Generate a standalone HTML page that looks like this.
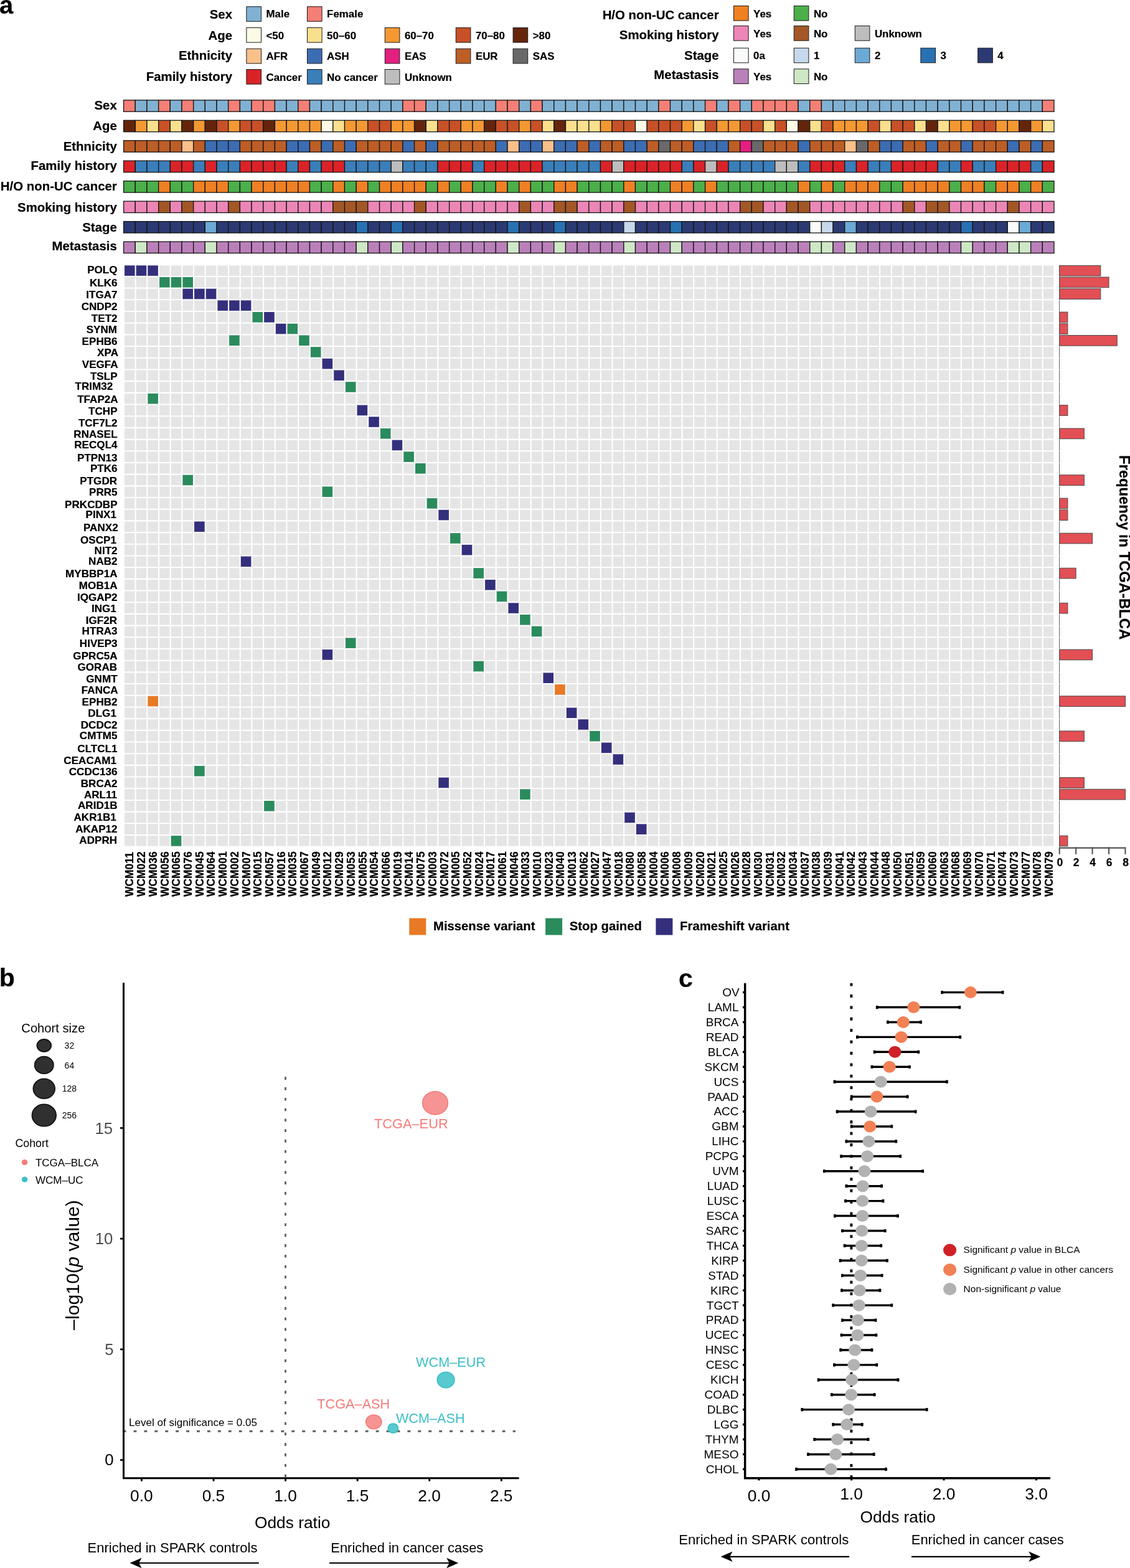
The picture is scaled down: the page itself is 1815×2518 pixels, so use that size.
<!DOCTYPE html>
<html lang="en"><head><meta charset="utf-8"><title>Figure</title>
<style>
html,body{margin:0;padding:0;background:#fff;}
body{width:1815px;height:2518px;overflow:hidden;}
svg{display:block;font-family:"Liberation Sans",Arial,Helvetica,sans-serif;}
.b{stroke:#000;stroke-width:0.2px;paint-order:stroke;}
</style></head><body>
<svg width="1815" height="2518" viewBox="0 0 1815 2518">
<rect width="1815" height="2518" fill="#fff"/>
<text x="-1.00" y="22.00" font-size="40" text-anchor="start" font-weight="bold" fill="#000" class="b">a</text>
<text x="373.00" y="29.80" font-size="20.4" text-anchor="end" font-weight="bold" fill="#000" class="b">Sex</text>
<rect x="395.90" y="10.70" width="23.60" height="23.60" fill="#80B1D3" stroke="#1a1a1a" stroke-width="1.0"/>
<text x="427.50" y="28.00" font-size="16.9" text-anchor="start" font-weight="bold" fill="#000" class="b">Male</text>
<rect x="493.50" y="10.70" width="23.60" height="23.60" fill="#F47F76" stroke="#1a1a1a" stroke-width="1.0"/>
<text x="525.10" y="28.00" font-size="16.9" text-anchor="start" font-weight="bold" fill="#000" class="b">Female</text>
<text x="373.00" y="63.60" font-size="20.4" text-anchor="end" font-weight="bold" fill="#000" class="b">Age</text>
<rect x="395.90" y="44.50" width="23.60" height="23.60" fill="#FDFBE6" stroke="#1a1a1a" stroke-width="1.0"/>
<text x="427.50" y="62.50" font-size="16.9" text-anchor="start" font-weight="bold" fill="#000" class="b">&lt;50</text>
<rect x="493.50" y="44.50" width="23.60" height="23.60" fill="#FAE08D" stroke="#1a1a1a" stroke-width="1.0"/>
<text x="525.10" y="62.50" font-size="16.9" text-anchor="start" font-weight="bold" fill="#000" class="b">50–60</text>
<rect x="618.30" y="44.50" width="23.60" height="23.60" fill="#F49832" stroke="#1a1a1a" stroke-width="1.0"/>
<text x="649.90" y="62.50" font-size="16.9" text-anchor="start" font-weight="bold" fill="#000" class="b">60–70</text>
<rect x="732.30" y="44.50" width="23.60" height="23.60" fill="#C85127" stroke="#1a1a1a" stroke-width="1.0"/>
<text x="763.90" y="62.50" font-size="16.9" text-anchor="start" font-weight="bold" fill="#000" class="b">70–80</text>
<rect x="824.10" y="44.50" width="23.60" height="23.60" fill="#65250B" stroke="#1a1a1a" stroke-width="1.0"/>
<text x="855.70" y="62.50" font-size="16.9" text-anchor="start" font-weight="bold" fill="#000" class="b">&gt;80</text>
<text x="373.00" y="96.00" font-size="20.4" text-anchor="end" font-weight="bold" fill="#000" class="b">Ethnicity</text>
<rect x="395.90" y="78.30" width="23.60" height="23.60" fill="#FAC08A" stroke="#1a1a1a" stroke-width="1.0"/>
<text x="427.50" y="96.30" font-size="16.9" text-anchor="start" font-weight="bold" fill="#000" class="b">AFR</text>
<rect x="493.50" y="78.30" width="23.60" height="23.60" fill="#3C6DB2" stroke="#1a1a1a" stroke-width="1.0"/>
<text x="525.10" y="96.30" font-size="16.9" text-anchor="start" font-weight="bold" fill="#000" class="b">ASH</text>
<rect x="618.30" y="78.30" width="23.60" height="23.60" fill="#E31F80" stroke="#1a1a1a" stroke-width="1.0"/>
<text x="649.90" y="96.30" font-size="16.9" text-anchor="start" font-weight="bold" fill="#000" class="b">EAS</text>
<rect x="732.30" y="78.30" width="23.60" height="23.60" fill="#BD5E26" stroke="#1a1a1a" stroke-width="1.0"/>
<text x="763.90" y="96.30" font-size="16.9" text-anchor="start" font-weight="bold" fill="#000" class="b">EUR</text>
<rect x="824.10" y="78.30" width="23.60" height="23.60" fill="#696969" stroke="#1a1a1a" stroke-width="1.0"/>
<text x="855.70" y="96.30" font-size="16.9" text-anchor="start" font-weight="bold" fill="#000" class="b">SAS</text>
<text x="373.00" y="129.60" font-size="20.4" text-anchor="end" font-weight="bold" fill="#000" class="b">Family history</text>
<rect x="395.90" y="111.50" width="23.60" height="23.60" fill="#DA2328" stroke="#1a1a1a" stroke-width="1.0"/>
<text x="427.50" y="129.80" font-size="16.9" text-anchor="start" font-weight="bold" fill="#000" class="b">Cancer</text>
<rect x="493.50" y="111.50" width="23.60" height="23.60" fill="#3A7EBA" stroke="#1a1a1a" stroke-width="1.0"/>
<text x="525.10" y="129.80" font-size="16.9" text-anchor="start" font-weight="bold" fill="#000" class="b">No cancer</text>
<rect x="618.30" y="111.50" width="23.60" height="23.60" fill="#BDBDBD" stroke="#1a1a1a" stroke-width="1.0"/>
<text x="649.90" y="129.80" font-size="16.9" text-anchor="start" font-weight="bold" fill="#000" class="b">Unknown</text>
<text x="1154.60" y="31.40" font-size="20.4" text-anchor="end" font-weight="bold" fill="#000" class="b">H/O non-UC cancer</text>
<rect x="1178.50" y="9.50" width="23.60" height="23.60" fill="#F08024" stroke="#1a1a1a" stroke-width="1.0"/>
<text x="1210.10" y="27.60" font-size="16.9" text-anchor="start" font-weight="bold" fill="#000" class="b">Yes</text>
<rect x="1275.30" y="9.50" width="23.60" height="23.60" fill="#4BAF4A" stroke="#1a1a1a" stroke-width="1.0"/>
<text x="1306.90" y="27.60" font-size="16.9" text-anchor="start" font-weight="bold" fill="#000" class="b">No</text>
<text x="1154.60" y="62.50" font-size="20.4" text-anchor="end" font-weight="bold" fill="#000" class="b">Smoking history</text>
<rect x="1178.50" y="41.60" width="23.60" height="23.60" fill="#EC86B6" stroke="#1a1a1a" stroke-width="1.0"/>
<text x="1210.10" y="59.60" font-size="16.9" text-anchor="start" font-weight="bold" fill="#000" class="b">Yes</text>
<rect x="1275.30" y="41.60" width="23.60" height="23.60" fill="#A45726" stroke="#1a1a1a" stroke-width="1.0"/>
<text x="1306.90" y="59.60" font-size="16.9" text-anchor="start" font-weight="bold" fill="#000" class="b">No</text>
<rect x="1373.30" y="41.60" width="23.60" height="23.60" fill="#BDBDBD" stroke="#1a1a1a" stroke-width="1.0"/>
<text x="1404.90" y="59.60" font-size="16.9" text-anchor="start" font-weight="bold" fill="#000" class="b">Unknown</text>
<text x="1154.60" y="95.90" font-size="20.4" text-anchor="end" font-weight="bold" fill="#000" class="b">Stage</text>
<rect x="1178.50" y="77.20" width="23.60" height="23.60" fill="#F9FBFA" stroke="#1a1a1a" stroke-width="1.0"/>
<text x="1210.10" y="95.40" font-size="16.9" text-anchor="start" font-weight="bold" fill="#000" class="b">0a</text>
<rect x="1275.30" y="77.20" width="23.60" height="23.60" fill="#C6D9EC" stroke="#1a1a1a" stroke-width="1.0"/>
<text x="1306.90" y="95.40" font-size="16.9" text-anchor="start" font-weight="bold" fill="#000" class="b">1</text>
<rect x="1373.30" y="77.20" width="23.60" height="23.60" fill="#6BAAD7" stroke="#1a1a1a" stroke-width="1.0"/>
<text x="1404.90" y="95.40" font-size="16.9" text-anchor="start" font-weight="bold" fill="#000" class="b">2</text>
<rect x="1478.90" y="77.20" width="23.60" height="23.60" fill="#2871B3" stroke="#1a1a1a" stroke-width="1.0"/>
<text x="1510.50" y="95.40" font-size="16.9" text-anchor="start" font-weight="bold" fill="#000" class="b">3</text>
<rect x="1570.70" y="77.20" width="23.60" height="23.60" fill="#2B3A73" stroke="#1a1a1a" stroke-width="1.0"/>
<text x="1602.30" y="95.40" font-size="16.9" text-anchor="start" font-weight="bold" fill="#000" class="b">4</text>
<text x="1154.60" y="127.30" font-size="20.4" text-anchor="end" font-weight="bold" fill="#000" class="b">Metastasis</text>
<rect x="1178.50" y="110.80" width="23.60" height="23.60" fill="#BA80BA" stroke="#1a1a1a" stroke-width="1.0"/>
<text x="1210.10" y="128.80" font-size="16.9" text-anchor="start" font-weight="bold" fill="#000" class="b">Yes</text>
<rect x="1275.30" y="110.80" width="23.60" height="23.60" fill="#CEE8C6" stroke="#1a1a1a" stroke-width="1.0"/>
<text x="1306.90" y="128.80" font-size="16.9" text-anchor="start" font-weight="bold" fill="#000" class="b">No</text>
<text x="187.80" y="176.40" font-size="20.4" text-anchor="end" font-weight="bold" fill="#000" class="b">Sex</text>
<g stroke="#141414" stroke-width="1.3">
<rect x="198.60" y="160.80" width="18.68" height="18.40" fill="#F47F76"/>
<rect x="217.28" y="160.80" width="18.68" height="18.40" fill="#80B1D3"/>
<rect x="235.96" y="160.80" width="18.68" height="18.40" fill="#80B1D3"/>
<rect x="254.64" y="160.80" width="18.68" height="18.40" fill="#F47F76"/>
<rect x="273.32" y="160.80" width="18.68" height="18.40" fill="#80B1D3"/>
<rect x="292.00" y="160.80" width="18.68" height="18.40" fill="#F47F76"/>
<rect x="310.68" y="160.80" width="18.68" height="18.40" fill="#80B1D3"/>
<rect x="329.36" y="160.80" width="18.68" height="18.40" fill="#80B1D3"/>
<rect x="348.04" y="160.80" width="18.68" height="18.40" fill="#80B1D3"/>
<rect x="366.72" y="160.80" width="18.68" height="18.40" fill="#F47F76"/>
<rect x="385.40" y="160.80" width="18.68" height="18.40" fill="#80B1D3"/>
<rect x="404.08" y="160.80" width="18.68" height="18.40" fill="#F47F76"/>
<rect x="422.76" y="160.80" width="18.68" height="18.40" fill="#F47F76"/>
<rect x="441.44" y="160.80" width="18.68" height="18.40" fill="#80B1D3"/>
<rect x="460.12" y="160.80" width="18.68" height="18.40" fill="#80B1D3"/>
<rect x="478.80" y="160.80" width="18.68" height="18.40" fill="#F47F76"/>
<rect x="497.48" y="160.80" width="18.68" height="18.40" fill="#80B1D3"/>
<rect x="516.16" y="160.80" width="18.68" height="18.40" fill="#80B1D3"/>
<rect x="534.84" y="160.80" width="18.68" height="18.40" fill="#80B1D3"/>
<rect x="553.52" y="160.80" width="18.68" height="18.40" fill="#80B1D3"/>
<rect x="572.20" y="160.80" width="18.68" height="18.40" fill="#80B1D3"/>
<rect x="590.88" y="160.80" width="18.68" height="18.40" fill="#80B1D3"/>
<rect x="609.56" y="160.80" width="18.68" height="18.40" fill="#80B1D3"/>
<rect x="628.24" y="160.80" width="18.68" height="18.40" fill="#80B1D3"/>
<rect x="646.92" y="160.80" width="18.68" height="18.40" fill="#F47F76"/>
<rect x="665.60" y="160.80" width="18.68" height="18.40" fill="#F47F76"/>
<rect x="684.28" y="160.80" width="18.68" height="18.40" fill="#80B1D3"/>
<rect x="702.96" y="160.80" width="18.68" height="18.40" fill="#80B1D3"/>
<rect x="721.64" y="160.80" width="18.68" height="18.40" fill="#80B1D3"/>
<rect x="740.32" y="160.80" width="18.68" height="18.40" fill="#80B1D3"/>
<rect x="759.00" y="160.80" width="18.68" height="18.40" fill="#80B1D3"/>
<rect x="777.68" y="160.80" width="18.68" height="18.40" fill="#80B1D3"/>
<rect x="796.36" y="160.80" width="18.68" height="18.40" fill="#F47F76"/>
<rect x="815.04" y="160.80" width="18.68" height="18.40" fill="#F47F76"/>
<rect x="833.72" y="160.80" width="18.68" height="18.40" fill="#80B1D3"/>
<rect x="852.40" y="160.80" width="18.68" height="18.40" fill="#F47F76"/>
<rect x="871.08" y="160.80" width="18.68" height="18.40" fill="#80B1D3"/>
<rect x="889.76" y="160.80" width="18.68" height="18.40" fill="#80B1D3"/>
<rect x="908.44" y="160.80" width="18.68" height="18.40" fill="#80B1D3"/>
<rect x="927.12" y="160.80" width="18.68" height="18.40" fill="#80B1D3"/>
<rect x="945.80" y="160.80" width="18.68" height="18.40" fill="#80B1D3"/>
<rect x="964.48" y="160.80" width="18.68" height="18.40" fill="#80B1D3"/>
<rect x="983.16" y="160.80" width="18.68" height="18.40" fill="#80B1D3"/>
<rect x="1001.84" y="160.80" width="18.68" height="18.40" fill="#80B1D3"/>
<rect x="1020.52" y="160.80" width="18.68" height="18.40" fill="#80B1D3"/>
<rect x="1039.20" y="160.80" width="18.68" height="18.40" fill="#80B1D3"/>
<rect x="1057.88" y="160.80" width="18.68" height="18.40" fill="#F47F76"/>
<rect x="1076.56" y="160.80" width="18.68" height="18.40" fill="#80B1D3"/>
<rect x="1095.24" y="160.80" width="18.68" height="18.40" fill="#80B1D3"/>
<rect x="1113.92" y="160.80" width="18.68" height="18.40" fill="#80B1D3"/>
<rect x="1132.60" y="160.80" width="18.68" height="18.40" fill="#F47F76"/>
<rect x="1151.28" y="160.80" width="18.68" height="18.40" fill="#80B1D3"/>
<rect x="1169.96" y="160.80" width="18.68" height="18.40" fill="#F47F76"/>
<rect x="1188.64" y="160.80" width="18.68" height="18.40" fill="#80B1D3"/>
<rect x="1207.32" y="160.80" width="18.68" height="18.40" fill="#F47F76"/>
<rect x="1226.00" y="160.80" width="18.68" height="18.40" fill="#F47F76"/>
<rect x="1244.68" y="160.80" width="18.68" height="18.40" fill="#F47F76"/>
<rect x="1263.36" y="160.80" width="18.68" height="18.40" fill="#F47F76"/>
<rect x="1282.04" y="160.80" width="18.68" height="18.40" fill="#80B1D3"/>
<rect x="1300.72" y="160.80" width="18.68" height="18.40" fill="#F47F76"/>
<rect x="1319.40" y="160.80" width="18.68" height="18.40" fill="#80B1D3"/>
<rect x="1338.08" y="160.80" width="18.68" height="18.40" fill="#80B1D3"/>
<rect x="1356.76" y="160.80" width="18.68" height="18.40" fill="#80B1D3"/>
<rect x="1375.44" y="160.80" width="18.68" height="18.40" fill="#80B1D3"/>
<rect x="1394.12" y="160.80" width="18.68" height="18.40" fill="#80B1D3"/>
<rect x="1412.80" y="160.80" width="18.68" height="18.40" fill="#80B1D3"/>
<rect x="1431.48" y="160.80" width="18.68" height="18.40" fill="#80B1D3"/>
<rect x="1450.16" y="160.80" width="18.68" height="18.40" fill="#80B1D3"/>
<rect x="1468.84" y="160.80" width="18.68" height="18.40" fill="#80B1D3"/>
<rect x="1487.52" y="160.80" width="18.68" height="18.40" fill="#80B1D3"/>
<rect x="1506.20" y="160.80" width="18.68" height="18.40" fill="#80B1D3"/>
<rect x="1524.88" y="160.80" width="18.68" height="18.40" fill="#80B1D3"/>
<rect x="1543.56" y="160.80" width="18.68" height="18.40" fill="#80B1D3"/>
<rect x="1562.24" y="160.80" width="18.68" height="18.40" fill="#80B1D3"/>
<rect x="1580.92" y="160.80" width="18.68" height="18.40" fill="#80B1D3"/>
<rect x="1599.60" y="160.80" width="18.68" height="18.40" fill="#80B1D3"/>
<rect x="1618.28" y="160.80" width="18.68" height="18.40" fill="#80B1D3"/>
<rect x="1636.96" y="160.80" width="18.68" height="18.40" fill="#80B1D3"/>
<rect x="1655.64" y="160.80" width="18.68" height="18.40" fill="#80B1D3"/>
<rect x="1674.32" y="160.80" width="18.68" height="18.40" fill="#F47F76"/>
</g>
<text x="187.80" y="208.90" font-size="20.4" text-anchor="end" font-weight="bold" fill="#000" class="b">Age</text>
<g stroke="#141414" stroke-width="1.3">
<rect x="198.60" y="193.27" width="18.68" height="18.40" fill="#65250B"/>
<rect x="217.28" y="193.27" width="18.68" height="18.40" fill="#F49832"/>
<rect x="235.96" y="193.27" width="18.68" height="18.40" fill="#FAE08D"/>
<rect x="254.64" y="193.27" width="18.68" height="18.40" fill="#C85127"/>
<rect x="273.32" y="193.27" width="18.68" height="18.40" fill="#FAE08D"/>
<rect x="292.00" y="193.27" width="18.68" height="18.40" fill="#65250B"/>
<rect x="310.68" y="193.27" width="18.68" height="18.40" fill="#F49832"/>
<rect x="329.36" y="193.27" width="18.68" height="18.40" fill="#65250B"/>
<rect x="348.04" y="193.27" width="18.68" height="18.40" fill="#C85127"/>
<rect x="366.72" y="193.27" width="18.68" height="18.40" fill="#F49832"/>
<rect x="385.40" y="193.27" width="18.68" height="18.40" fill="#C85127"/>
<rect x="404.08" y="193.27" width="18.68" height="18.40" fill="#C85127"/>
<rect x="422.76" y="193.27" width="18.68" height="18.40" fill="#65250B"/>
<rect x="441.44" y="193.27" width="18.68" height="18.40" fill="#F49832"/>
<rect x="460.12" y="193.27" width="18.68" height="18.40" fill="#F49832"/>
<rect x="478.80" y="193.27" width="18.68" height="18.40" fill="#F49832"/>
<rect x="497.48" y="193.27" width="18.68" height="18.40" fill="#F49832"/>
<rect x="516.16" y="193.27" width="18.68" height="18.40" fill="#FDFBE6"/>
<rect x="534.84" y="193.27" width="18.68" height="18.40" fill="#FAE08D"/>
<rect x="553.52" y="193.27" width="18.68" height="18.40" fill="#F49832"/>
<rect x="572.20" y="193.27" width="18.68" height="18.40" fill="#F49832"/>
<rect x="590.88" y="193.27" width="18.68" height="18.40" fill="#C85127"/>
<rect x="609.56" y="193.27" width="18.68" height="18.40" fill="#C85127"/>
<rect x="628.24" y="193.27" width="18.68" height="18.40" fill="#F49832"/>
<rect x="646.92" y="193.27" width="18.68" height="18.40" fill="#F49832"/>
<rect x="665.60" y="193.27" width="18.68" height="18.40" fill="#65250B"/>
<rect x="684.28" y="193.27" width="18.68" height="18.40" fill="#FAE08D"/>
<rect x="702.96" y="193.27" width="18.68" height="18.40" fill="#C85127"/>
<rect x="721.64" y="193.27" width="18.68" height="18.40" fill="#C85127"/>
<rect x="740.32" y="193.27" width="18.68" height="18.40" fill="#F49832"/>
<rect x="759.00" y="193.27" width="18.68" height="18.40" fill="#F49832"/>
<rect x="777.68" y="193.27" width="18.68" height="18.40" fill="#65250B"/>
<rect x="796.36" y="193.27" width="18.68" height="18.40" fill="#C85127"/>
<rect x="815.04" y="193.27" width="18.68" height="18.40" fill="#C85127"/>
<rect x="833.72" y="193.27" width="18.68" height="18.40" fill="#F49832"/>
<rect x="852.40" y="193.27" width="18.68" height="18.40" fill="#C85127"/>
<rect x="871.08" y="193.27" width="18.68" height="18.40" fill="#FAE08D"/>
<rect x="889.76" y="193.27" width="18.68" height="18.40" fill="#65250B"/>
<rect x="908.44" y="193.27" width="18.68" height="18.40" fill="#FAE08D"/>
<rect x="927.12" y="193.27" width="18.68" height="18.40" fill="#FAE08D"/>
<rect x="945.80" y="193.27" width="18.68" height="18.40" fill="#FAE08D"/>
<rect x="964.48" y="193.27" width="18.68" height="18.40" fill="#F49832"/>
<rect x="983.16" y="193.27" width="18.68" height="18.40" fill="#C85127"/>
<rect x="1001.84" y="193.27" width="18.68" height="18.40" fill="#C85127"/>
<rect x="1020.52" y="193.27" width="18.68" height="18.40" fill="#FDFBE6"/>
<rect x="1039.20" y="193.27" width="18.68" height="18.40" fill="#C85127"/>
<rect x="1057.88" y="193.27" width="18.68" height="18.40" fill="#C85127"/>
<rect x="1076.56" y="193.27" width="18.68" height="18.40" fill="#C85127"/>
<rect x="1095.24" y="193.27" width="18.68" height="18.40" fill="#F49832"/>
<rect x="1113.92" y="193.27" width="18.68" height="18.40" fill="#FAE08D"/>
<rect x="1132.60" y="193.27" width="18.68" height="18.40" fill="#C85127"/>
<rect x="1151.28" y="193.27" width="18.68" height="18.40" fill="#F49832"/>
<rect x="1169.96" y="193.27" width="18.68" height="18.40" fill="#F49832"/>
<rect x="1188.64" y="193.27" width="18.68" height="18.40" fill="#C85127"/>
<rect x="1207.32" y="193.27" width="18.68" height="18.40" fill="#C85127"/>
<rect x="1226.00" y="193.27" width="18.68" height="18.40" fill="#FAE08D"/>
<rect x="1244.68" y="193.27" width="18.68" height="18.40" fill="#C85127"/>
<rect x="1263.36" y="193.27" width="18.68" height="18.40" fill="#FDFBE6"/>
<rect x="1282.04" y="193.27" width="18.68" height="18.40" fill="#65250B"/>
<rect x="1300.72" y="193.27" width="18.68" height="18.40" fill="#FAE08D"/>
<rect x="1319.40" y="193.27" width="18.68" height="18.40" fill="#C85127"/>
<rect x="1338.08" y="193.27" width="18.68" height="18.40" fill="#F49832"/>
<rect x="1356.76" y="193.27" width="18.68" height="18.40" fill="#F49832"/>
<rect x="1375.44" y="193.27" width="18.68" height="18.40" fill="#F49832"/>
<rect x="1394.12" y="193.27" width="18.68" height="18.40" fill="#C85127"/>
<rect x="1412.80" y="193.27" width="18.68" height="18.40" fill="#FAE08D"/>
<rect x="1431.48" y="193.27" width="18.68" height="18.40" fill="#C85127"/>
<rect x="1450.16" y="193.27" width="18.68" height="18.40" fill="#C85127"/>
<rect x="1468.84" y="193.27" width="18.68" height="18.40" fill="#FAE08D"/>
<rect x="1487.52" y="193.27" width="18.68" height="18.40" fill="#65250B"/>
<rect x="1506.20" y="193.27" width="18.68" height="18.40" fill="#FAE08D"/>
<rect x="1524.88" y="193.27" width="18.68" height="18.40" fill="#F49832"/>
<rect x="1543.56" y="193.27" width="18.68" height="18.40" fill="#F49832"/>
<rect x="1562.24" y="193.27" width="18.68" height="18.40" fill="#C85127"/>
<rect x="1580.92" y="193.27" width="18.68" height="18.40" fill="#C85127"/>
<rect x="1599.60" y="193.27" width="18.68" height="18.40" fill="#F49832"/>
<rect x="1618.28" y="193.27" width="18.68" height="18.40" fill="#F49832"/>
<rect x="1636.96" y="193.27" width="18.68" height="18.40" fill="#65250B"/>
<rect x="1655.64" y="193.27" width="18.68" height="18.40" fill="#F49832"/>
<rect x="1674.32" y="193.27" width="18.68" height="18.40" fill="#FAE08D"/>
</g>
<text x="187.80" y="241.70" font-size="20.4" text-anchor="end" font-weight="bold" fill="#000" class="b">Ethnicity</text>
<g stroke="#141414" stroke-width="1.3">
<rect x="198.60" y="225.74" width="18.68" height="18.40" fill="#BD5E26"/>
<rect x="217.28" y="225.74" width="18.68" height="18.40" fill="#BD5E26"/>
<rect x="235.96" y="225.74" width="18.68" height="18.40" fill="#BD5E26"/>
<rect x="254.64" y="225.74" width="18.68" height="18.40" fill="#BD5E26"/>
<rect x="273.32" y="225.74" width="18.68" height="18.40" fill="#BD5E26"/>
<rect x="292.00" y="225.74" width="18.68" height="18.40" fill="#FAC08A"/>
<rect x="310.68" y="225.74" width="18.68" height="18.40" fill="#BD5E26"/>
<rect x="329.36" y="225.74" width="18.68" height="18.40" fill="#3C6DB2"/>
<rect x="348.04" y="225.74" width="18.68" height="18.40" fill="#3C6DB2"/>
<rect x="366.72" y="225.74" width="18.68" height="18.40" fill="#3C6DB2"/>
<rect x="385.40" y="225.74" width="18.68" height="18.40" fill="#BD5E26"/>
<rect x="404.08" y="225.74" width="18.68" height="18.40" fill="#BD5E26"/>
<rect x="422.76" y="225.74" width="18.68" height="18.40" fill="#BD5E26"/>
<rect x="441.44" y="225.74" width="18.68" height="18.40" fill="#BD5E26"/>
<rect x="460.12" y="225.74" width="18.68" height="18.40" fill="#3C6DB2"/>
<rect x="478.80" y="225.74" width="18.68" height="18.40" fill="#3C6DB2"/>
<rect x="497.48" y="225.74" width="18.68" height="18.40" fill="#BD5E26"/>
<rect x="516.16" y="225.74" width="18.68" height="18.40" fill="#3C6DB2"/>
<rect x="534.84" y="225.74" width="18.68" height="18.40" fill="#BD5E26"/>
<rect x="553.52" y="225.74" width="18.68" height="18.40" fill="#3C6DB2"/>
<rect x="572.20" y="225.74" width="18.68" height="18.40" fill="#BD5E26"/>
<rect x="590.88" y="225.74" width="18.68" height="18.40" fill="#BD5E26"/>
<rect x="609.56" y="225.74" width="18.68" height="18.40" fill="#BD5E26"/>
<rect x="628.24" y="225.74" width="18.68" height="18.40" fill="#BD5E26"/>
<rect x="646.92" y="225.74" width="18.68" height="18.40" fill="#3C6DB2"/>
<rect x="665.60" y="225.74" width="18.68" height="18.40" fill="#BD5E26"/>
<rect x="684.28" y="225.74" width="18.68" height="18.40" fill="#3C6DB2"/>
<rect x="702.96" y="225.74" width="18.68" height="18.40" fill="#BD5E26"/>
<rect x="721.64" y="225.74" width="18.68" height="18.40" fill="#BD5E26"/>
<rect x="740.32" y="225.74" width="18.68" height="18.40" fill="#BD5E26"/>
<rect x="759.00" y="225.74" width="18.68" height="18.40" fill="#BD5E26"/>
<rect x="777.68" y="225.74" width="18.68" height="18.40" fill="#BD5E26"/>
<rect x="796.36" y="225.74" width="18.68" height="18.40" fill="#3C6DB2"/>
<rect x="815.04" y="225.74" width="18.68" height="18.40" fill="#FAC08A"/>
<rect x="833.72" y="225.74" width="18.68" height="18.40" fill="#3C6DB2"/>
<rect x="852.40" y="225.74" width="18.68" height="18.40" fill="#3C6DB2"/>
<rect x="871.08" y="225.74" width="18.68" height="18.40" fill="#FAC08A"/>
<rect x="889.76" y="225.74" width="18.68" height="18.40" fill="#3C6DB2"/>
<rect x="908.44" y="225.74" width="18.68" height="18.40" fill="#3C6DB2"/>
<rect x="927.12" y="225.74" width="18.68" height="18.40" fill="#BD5E26"/>
<rect x="945.80" y="225.74" width="18.68" height="18.40" fill="#3C6DB2"/>
<rect x="964.48" y="225.74" width="18.68" height="18.40" fill="#BD5E26"/>
<rect x="983.16" y="225.74" width="18.68" height="18.40" fill="#BD5E26"/>
<rect x="1001.84" y="225.74" width="18.68" height="18.40" fill="#3C6DB2"/>
<rect x="1020.52" y="225.74" width="18.68" height="18.40" fill="#3C6DB2"/>
<rect x="1039.20" y="225.74" width="18.68" height="18.40" fill="#BD5E26"/>
<rect x="1057.88" y="225.74" width="18.68" height="18.40" fill="#696969"/>
<rect x="1076.56" y="225.74" width="18.68" height="18.40" fill="#BD5E26"/>
<rect x="1095.24" y="225.74" width="18.68" height="18.40" fill="#BD5E26"/>
<rect x="1113.92" y="225.74" width="18.68" height="18.40" fill="#3C6DB2"/>
<rect x="1132.60" y="225.74" width="18.68" height="18.40" fill="#3C6DB2"/>
<rect x="1151.28" y="225.74" width="18.68" height="18.40" fill="#3C6DB2"/>
<rect x="1169.96" y="225.74" width="18.68" height="18.40" fill="#BD5E26"/>
<rect x="1188.64" y="225.74" width="18.68" height="18.40" fill="#E31F80"/>
<rect x="1207.32" y="225.74" width="18.68" height="18.40" fill="#696969"/>
<rect x="1226.00" y="225.74" width="18.68" height="18.40" fill="#BD5E26"/>
<rect x="1244.68" y="225.74" width="18.68" height="18.40" fill="#BD5E26"/>
<rect x="1263.36" y="225.74" width="18.68" height="18.40" fill="#BD5E26"/>
<rect x="1282.04" y="225.74" width="18.68" height="18.40" fill="#3C6DB2"/>
<rect x="1300.72" y="225.74" width="18.68" height="18.40" fill="#BD5E26"/>
<rect x="1319.40" y="225.74" width="18.68" height="18.40" fill="#BD5E26"/>
<rect x="1338.08" y="225.74" width="18.68" height="18.40" fill="#BD5E26"/>
<rect x="1356.76" y="225.74" width="18.68" height="18.40" fill="#FAC08A"/>
<rect x="1375.44" y="225.74" width="18.68" height="18.40" fill="#696969"/>
<rect x="1394.12" y="225.74" width="18.68" height="18.40" fill="#BD5E26"/>
<rect x="1412.80" y="225.74" width="18.68" height="18.40" fill="#3C6DB2"/>
<rect x="1431.48" y="225.74" width="18.68" height="18.40" fill="#3C6DB2"/>
<rect x="1450.16" y="225.74" width="18.68" height="18.40" fill="#BD5E26"/>
<rect x="1468.84" y="225.74" width="18.68" height="18.40" fill="#BD5E26"/>
<rect x="1487.52" y="225.74" width="18.68" height="18.40" fill="#3C6DB2"/>
<rect x="1506.20" y="225.74" width="18.68" height="18.40" fill="#BD5E26"/>
<rect x="1524.88" y="225.74" width="18.68" height="18.40" fill="#BD5E26"/>
<rect x="1543.56" y="225.74" width="18.68" height="18.40" fill="#3C6DB2"/>
<rect x="1562.24" y="225.74" width="18.68" height="18.40" fill="#BD5E26"/>
<rect x="1580.92" y="225.74" width="18.68" height="18.40" fill="#BD5E26"/>
<rect x="1599.60" y="225.74" width="18.68" height="18.40" fill="#BD5E26"/>
<rect x="1618.28" y="225.74" width="18.68" height="18.40" fill="#3C6DB2"/>
<rect x="1636.96" y="225.74" width="18.68" height="18.40" fill="#BD5E26"/>
<rect x="1655.64" y="225.74" width="18.68" height="18.40" fill="#3C6DB2"/>
<rect x="1674.32" y="225.74" width="18.68" height="18.40" fill="#BD5E26"/>
</g>
<text x="187.80" y="273.00" font-size="20.4" text-anchor="end" font-weight="bold" fill="#000" class="b">Family history</text>
<g stroke="#141414" stroke-width="1.3">
<rect x="198.60" y="258.21" width="18.68" height="18.40" fill="#DA2328"/>
<rect x="217.28" y="258.21" width="18.68" height="18.40" fill="#3A7EBA"/>
<rect x="235.96" y="258.21" width="18.68" height="18.40" fill="#3A7EBA"/>
<rect x="254.64" y="258.21" width="18.68" height="18.40" fill="#3A7EBA"/>
<rect x="273.32" y="258.21" width="18.68" height="18.40" fill="#DA2328"/>
<rect x="292.00" y="258.21" width="18.68" height="18.40" fill="#DA2328"/>
<rect x="310.68" y="258.21" width="18.68" height="18.40" fill="#3A7EBA"/>
<rect x="329.36" y="258.21" width="18.68" height="18.40" fill="#DA2328"/>
<rect x="348.04" y="258.21" width="18.68" height="18.40" fill="#3A7EBA"/>
<rect x="366.72" y="258.21" width="18.68" height="18.40" fill="#3A7EBA"/>
<rect x="385.40" y="258.21" width="18.68" height="18.40" fill="#DA2328"/>
<rect x="404.08" y="258.21" width="18.68" height="18.40" fill="#DA2328"/>
<rect x="422.76" y="258.21" width="18.68" height="18.40" fill="#DA2328"/>
<rect x="441.44" y="258.21" width="18.68" height="18.40" fill="#DA2328"/>
<rect x="460.12" y="258.21" width="18.68" height="18.40" fill="#3A7EBA"/>
<rect x="478.80" y="258.21" width="18.68" height="18.40" fill="#DA2328"/>
<rect x="497.48" y="258.21" width="18.68" height="18.40" fill="#3A7EBA"/>
<rect x="516.16" y="258.21" width="18.68" height="18.40" fill="#DA2328"/>
<rect x="534.84" y="258.21" width="18.68" height="18.40" fill="#DA2328"/>
<rect x="553.52" y="258.21" width="18.68" height="18.40" fill="#3A7EBA"/>
<rect x="572.20" y="258.21" width="18.68" height="18.40" fill="#3A7EBA"/>
<rect x="590.88" y="258.21" width="18.68" height="18.40" fill="#3A7EBA"/>
<rect x="609.56" y="258.21" width="18.68" height="18.40" fill="#3A7EBA"/>
<rect x="628.24" y="258.21" width="18.68" height="18.40" fill="#BDBDBD"/>
<rect x="646.92" y="258.21" width="18.68" height="18.40" fill="#3A7EBA"/>
<rect x="665.60" y="258.21" width="18.68" height="18.40" fill="#3A7EBA"/>
<rect x="684.28" y="258.21" width="18.68" height="18.40" fill="#3A7EBA"/>
<rect x="702.96" y="258.21" width="18.68" height="18.40" fill="#DA2328"/>
<rect x="721.64" y="258.21" width="18.68" height="18.40" fill="#DA2328"/>
<rect x="740.32" y="258.21" width="18.68" height="18.40" fill="#DA2328"/>
<rect x="759.00" y="258.21" width="18.68" height="18.40" fill="#3A7EBA"/>
<rect x="777.68" y="258.21" width="18.68" height="18.40" fill="#DA2328"/>
<rect x="796.36" y="258.21" width="18.68" height="18.40" fill="#DA2328"/>
<rect x="815.04" y="258.21" width="18.68" height="18.40" fill="#DA2328"/>
<rect x="833.72" y="258.21" width="18.68" height="18.40" fill="#DA2328"/>
<rect x="852.40" y="258.21" width="18.68" height="18.40" fill="#DA2328"/>
<rect x="871.08" y="258.21" width="18.68" height="18.40" fill="#3A7EBA"/>
<rect x="889.76" y="258.21" width="18.68" height="18.40" fill="#3A7EBA"/>
<rect x="908.44" y="258.21" width="18.68" height="18.40" fill="#3A7EBA"/>
<rect x="927.12" y="258.21" width="18.68" height="18.40" fill="#3A7EBA"/>
<rect x="945.80" y="258.21" width="18.68" height="18.40" fill="#3A7EBA"/>
<rect x="964.48" y="258.21" width="18.68" height="18.40" fill="#DA2328"/>
<rect x="983.16" y="258.21" width="18.68" height="18.40" fill="#BDBDBD"/>
<rect x="1001.84" y="258.21" width="18.68" height="18.40" fill="#DA2328"/>
<rect x="1020.52" y="258.21" width="18.68" height="18.40" fill="#DA2328"/>
<rect x="1039.20" y="258.21" width="18.68" height="18.40" fill="#DA2328"/>
<rect x="1057.88" y="258.21" width="18.68" height="18.40" fill="#DA2328"/>
<rect x="1076.56" y="258.21" width="18.68" height="18.40" fill="#DA2328"/>
<rect x="1095.24" y="258.21" width="18.68" height="18.40" fill="#3A7EBA"/>
<rect x="1113.92" y="258.21" width="18.68" height="18.40" fill="#DA2328"/>
<rect x="1132.60" y="258.21" width="18.68" height="18.40" fill="#BDBDBD"/>
<rect x="1151.28" y="258.21" width="18.68" height="18.40" fill="#DA2328"/>
<rect x="1169.96" y="258.21" width="18.68" height="18.40" fill="#3A7EBA"/>
<rect x="1188.64" y="258.21" width="18.68" height="18.40" fill="#3A7EBA"/>
<rect x="1207.32" y="258.21" width="18.68" height="18.40" fill="#3A7EBA"/>
<rect x="1226.00" y="258.21" width="18.68" height="18.40" fill="#3A7EBA"/>
<rect x="1244.68" y="258.21" width="18.68" height="18.40" fill="#BDBDBD"/>
<rect x="1263.36" y="258.21" width="18.68" height="18.40" fill="#BDBDBD"/>
<rect x="1282.04" y="258.21" width="18.68" height="18.40" fill="#3A7EBA"/>
<rect x="1300.72" y="258.21" width="18.68" height="18.40" fill="#DA2328"/>
<rect x="1319.40" y="258.21" width="18.68" height="18.40" fill="#DA2328"/>
<rect x="1338.08" y="258.21" width="18.68" height="18.40" fill="#DA2328"/>
<rect x="1356.76" y="258.21" width="18.68" height="18.40" fill="#3A7EBA"/>
<rect x="1375.44" y="258.21" width="18.68" height="18.40" fill="#DA2328"/>
<rect x="1394.12" y="258.21" width="18.68" height="18.40" fill="#3A7EBA"/>
<rect x="1412.80" y="258.21" width="18.68" height="18.40" fill="#3A7EBA"/>
<rect x="1431.48" y="258.21" width="18.68" height="18.40" fill="#DA2328"/>
<rect x="1450.16" y="258.21" width="18.68" height="18.40" fill="#DA2328"/>
<rect x="1468.84" y="258.21" width="18.68" height="18.40" fill="#DA2328"/>
<rect x="1487.52" y="258.21" width="18.68" height="18.40" fill="#DA2328"/>
<rect x="1506.20" y="258.21" width="18.68" height="18.40" fill="#3A7EBA"/>
<rect x="1524.88" y="258.21" width="18.68" height="18.40" fill="#3A7EBA"/>
<rect x="1543.56" y="258.21" width="18.68" height="18.40" fill="#DA2328"/>
<rect x="1562.24" y="258.21" width="18.68" height="18.40" fill="#3A7EBA"/>
<rect x="1580.92" y="258.21" width="18.68" height="18.40" fill="#3A7EBA"/>
<rect x="1599.60" y="258.21" width="18.68" height="18.40" fill="#DA2328"/>
<rect x="1618.28" y="258.21" width="18.68" height="18.40" fill="#DA2328"/>
<rect x="1636.96" y="258.21" width="18.68" height="18.40" fill="#DA2328"/>
<rect x="1655.64" y="258.21" width="18.68" height="18.40" fill="#3A7EBA"/>
<rect x="1674.32" y="258.21" width="18.68" height="18.40" fill="#DA2328"/>
</g>
<text x="187.80" y="306.30" font-size="20.4" text-anchor="end" font-weight="bold" fill="#000" class="b">H/O non-UC cancer</text>
<g stroke="#141414" stroke-width="1.3">
<rect x="198.60" y="290.68" width="18.68" height="18.40" fill="#4BAF4A"/>
<rect x="217.28" y="290.68" width="18.68" height="18.40" fill="#4BAF4A"/>
<rect x="235.96" y="290.68" width="18.68" height="18.40" fill="#4BAF4A"/>
<rect x="254.64" y="290.68" width="18.68" height="18.40" fill="#F08024"/>
<rect x="273.32" y="290.68" width="18.68" height="18.40" fill="#4BAF4A"/>
<rect x="292.00" y="290.68" width="18.68" height="18.40" fill="#4BAF4A"/>
<rect x="310.68" y="290.68" width="18.68" height="18.40" fill="#F08024"/>
<rect x="329.36" y="290.68" width="18.68" height="18.40" fill="#F08024"/>
<rect x="348.04" y="290.68" width="18.68" height="18.40" fill="#F08024"/>
<rect x="366.72" y="290.68" width="18.68" height="18.40" fill="#4BAF4A"/>
<rect x="385.40" y="290.68" width="18.68" height="18.40" fill="#4BAF4A"/>
<rect x="404.08" y="290.68" width="18.68" height="18.40" fill="#F08024"/>
<rect x="422.76" y="290.68" width="18.68" height="18.40" fill="#F08024"/>
<rect x="441.44" y="290.68" width="18.68" height="18.40" fill="#F08024"/>
<rect x="460.12" y="290.68" width="18.68" height="18.40" fill="#F08024"/>
<rect x="478.80" y="290.68" width="18.68" height="18.40" fill="#F08024"/>
<rect x="497.48" y="290.68" width="18.68" height="18.40" fill="#4BAF4A"/>
<rect x="516.16" y="290.68" width="18.68" height="18.40" fill="#4BAF4A"/>
<rect x="534.84" y="290.68" width="18.68" height="18.40" fill="#F08024"/>
<rect x="553.52" y="290.68" width="18.68" height="18.40" fill="#4BAF4A"/>
<rect x="572.20" y="290.68" width="18.68" height="18.40" fill="#F08024"/>
<rect x="590.88" y="290.68" width="18.68" height="18.40" fill="#4BAF4A"/>
<rect x="609.56" y="290.68" width="18.68" height="18.40" fill="#F08024"/>
<rect x="628.24" y="290.68" width="18.68" height="18.40" fill="#F08024"/>
<rect x="646.92" y="290.68" width="18.68" height="18.40" fill="#F08024"/>
<rect x="665.60" y="290.68" width="18.68" height="18.40" fill="#F08024"/>
<rect x="684.28" y="290.68" width="18.68" height="18.40" fill="#4BAF4A"/>
<rect x="702.96" y="290.68" width="18.68" height="18.40" fill="#F08024"/>
<rect x="721.64" y="290.68" width="18.68" height="18.40" fill="#4BAF4A"/>
<rect x="740.32" y="290.68" width="18.68" height="18.40" fill="#F08024"/>
<rect x="759.00" y="290.68" width="18.68" height="18.40" fill="#4BAF4A"/>
<rect x="777.68" y="290.68" width="18.68" height="18.40" fill="#4BAF4A"/>
<rect x="796.36" y="290.68" width="18.68" height="18.40" fill="#F08024"/>
<rect x="815.04" y="290.68" width="18.68" height="18.40" fill="#4BAF4A"/>
<rect x="833.72" y="290.68" width="18.68" height="18.40" fill="#F08024"/>
<rect x="852.40" y="290.68" width="18.68" height="18.40" fill="#4BAF4A"/>
<rect x="871.08" y="290.68" width="18.68" height="18.40" fill="#4BAF4A"/>
<rect x="889.76" y="290.68" width="18.68" height="18.40" fill="#F08024"/>
<rect x="908.44" y="290.68" width="18.68" height="18.40" fill="#F08024"/>
<rect x="927.12" y="290.68" width="18.68" height="18.40" fill="#4BAF4A"/>
<rect x="945.80" y="290.68" width="18.68" height="18.40" fill="#4BAF4A"/>
<rect x="964.48" y="290.68" width="18.68" height="18.40" fill="#4BAF4A"/>
<rect x="983.16" y="290.68" width="18.68" height="18.40" fill="#4BAF4A"/>
<rect x="1001.84" y="290.68" width="18.68" height="18.40" fill="#F08024"/>
<rect x="1020.52" y="290.68" width="18.68" height="18.40" fill="#4BAF4A"/>
<rect x="1039.20" y="290.68" width="18.68" height="18.40" fill="#4BAF4A"/>
<rect x="1057.88" y="290.68" width="18.68" height="18.40" fill="#4BAF4A"/>
<rect x="1076.56" y="290.68" width="18.68" height="18.40" fill="#F08024"/>
<rect x="1095.24" y="290.68" width="18.68" height="18.40" fill="#F08024"/>
<rect x="1113.92" y="290.68" width="18.68" height="18.40" fill="#4BAF4A"/>
<rect x="1132.60" y="290.68" width="18.68" height="18.40" fill="#F08024"/>
<rect x="1151.28" y="290.68" width="18.68" height="18.40" fill="#4BAF4A"/>
<rect x="1169.96" y="290.68" width="18.68" height="18.40" fill="#4BAF4A"/>
<rect x="1188.64" y="290.68" width="18.68" height="18.40" fill="#4BAF4A"/>
<rect x="1207.32" y="290.68" width="18.68" height="18.40" fill="#4BAF4A"/>
<rect x="1226.00" y="290.68" width="18.68" height="18.40" fill="#4BAF4A"/>
<rect x="1244.68" y="290.68" width="18.68" height="18.40" fill="#4BAF4A"/>
<rect x="1263.36" y="290.68" width="18.68" height="18.40" fill="#4BAF4A"/>
<rect x="1282.04" y="290.68" width="18.68" height="18.40" fill="#F08024"/>
<rect x="1300.72" y="290.68" width="18.68" height="18.40" fill="#4BAF4A"/>
<rect x="1319.40" y="290.68" width="18.68" height="18.40" fill="#F08024"/>
<rect x="1338.08" y="290.68" width="18.68" height="18.40" fill="#4BAF4A"/>
<rect x="1356.76" y="290.68" width="18.68" height="18.40" fill="#F08024"/>
<rect x="1375.44" y="290.68" width="18.68" height="18.40" fill="#F08024"/>
<rect x="1394.12" y="290.68" width="18.68" height="18.40" fill="#F08024"/>
<rect x="1412.80" y="290.68" width="18.68" height="18.40" fill="#4BAF4A"/>
<rect x="1431.48" y="290.68" width="18.68" height="18.40" fill="#4BAF4A"/>
<rect x="1450.16" y="290.68" width="18.68" height="18.40" fill="#F08024"/>
<rect x="1468.84" y="290.68" width="18.68" height="18.40" fill="#F08024"/>
<rect x="1487.52" y="290.68" width="18.68" height="18.40" fill="#F08024"/>
<rect x="1506.20" y="290.68" width="18.68" height="18.40" fill="#F08024"/>
<rect x="1524.88" y="290.68" width="18.68" height="18.40" fill="#4BAF4A"/>
<rect x="1543.56" y="290.68" width="18.68" height="18.40" fill="#F08024"/>
<rect x="1562.24" y="290.68" width="18.68" height="18.40" fill="#F08024"/>
<rect x="1580.92" y="290.68" width="18.68" height="18.40" fill="#4BAF4A"/>
<rect x="1599.60" y="290.68" width="18.68" height="18.40" fill="#F08024"/>
<rect x="1618.28" y="290.68" width="18.68" height="18.40" fill="#F08024"/>
<rect x="1636.96" y="290.68" width="18.68" height="18.40" fill="#4BAF4A"/>
<rect x="1655.64" y="290.68" width="18.68" height="18.40" fill="#F08024"/>
<rect x="1674.32" y="290.68" width="18.68" height="18.40" fill="#4BAF4A"/>
</g>
<text x="187.80" y="340.00" font-size="20.4" text-anchor="end" font-weight="bold" fill="#000" class="b">Smoking history</text>
<g stroke="#141414" stroke-width="1.3">
<rect x="198.60" y="323.15" width="18.68" height="18.40" fill="#EC86B6"/>
<rect x="217.28" y="323.15" width="18.68" height="18.40" fill="#EC86B6"/>
<rect x="235.96" y="323.15" width="18.68" height="18.40" fill="#EC86B6"/>
<rect x="254.64" y="323.15" width="18.68" height="18.40" fill="#A45726"/>
<rect x="273.32" y="323.15" width="18.68" height="18.40" fill="#EC86B6"/>
<rect x="292.00" y="323.15" width="18.68" height="18.40" fill="#A45726"/>
<rect x="310.68" y="323.15" width="18.68" height="18.40" fill="#EC86B6"/>
<rect x="329.36" y="323.15" width="18.68" height="18.40" fill="#EC86B6"/>
<rect x="348.04" y="323.15" width="18.68" height="18.40" fill="#EC86B6"/>
<rect x="366.72" y="323.15" width="18.68" height="18.40" fill="#A45726"/>
<rect x="385.40" y="323.15" width="18.68" height="18.40" fill="#EC86B6"/>
<rect x="404.08" y="323.15" width="18.68" height="18.40" fill="#EC86B6"/>
<rect x="422.76" y="323.15" width="18.68" height="18.40" fill="#EC86B6"/>
<rect x="441.44" y="323.15" width="18.68" height="18.40" fill="#EC86B6"/>
<rect x="460.12" y="323.15" width="18.68" height="18.40" fill="#EC86B6"/>
<rect x="478.80" y="323.15" width="18.68" height="18.40" fill="#EC86B6"/>
<rect x="497.48" y="323.15" width="18.68" height="18.40" fill="#EC86B6"/>
<rect x="516.16" y="323.15" width="18.68" height="18.40" fill="#EC86B6"/>
<rect x="534.84" y="323.15" width="18.68" height="18.40" fill="#A45726"/>
<rect x="553.52" y="323.15" width="18.68" height="18.40" fill="#A45726"/>
<rect x="572.20" y="323.15" width="18.68" height="18.40" fill="#A45726"/>
<rect x="590.88" y="323.15" width="18.68" height="18.40" fill="#EC86B6"/>
<rect x="609.56" y="323.15" width="18.68" height="18.40" fill="#EC86B6"/>
<rect x="628.24" y="323.15" width="18.68" height="18.40" fill="#EC86B6"/>
<rect x="646.92" y="323.15" width="18.68" height="18.40" fill="#EC86B6"/>
<rect x="665.60" y="323.15" width="18.68" height="18.40" fill="#A45726"/>
<rect x="684.28" y="323.15" width="18.68" height="18.40" fill="#EC86B6"/>
<rect x="702.96" y="323.15" width="18.68" height="18.40" fill="#EC86B6"/>
<rect x="721.64" y="323.15" width="18.68" height="18.40" fill="#EC86B6"/>
<rect x="740.32" y="323.15" width="18.68" height="18.40" fill="#EC86B6"/>
<rect x="759.00" y="323.15" width="18.68" height="18.40" fill="#EC86B6"/>
<rect x="777.68" y="323.15" width="18.68" height="18.40" fill="#EC86B6"/>
<rect x="796.36" y="323.15" width="18.68" height="18.40" fill="#EC86B6"/>
<rect x="815.04" y="323.15" width="18.68" height="18.40" fill="#EC86B6"/>
<rect x="833.72" y="323.15" width="18.68" height="18.40" fill="#A45726"/>
<rect x="852.40" y="323.15" width="18.68" height="18.40" fill="#EC86B6"/>
<rect x="871.08" y="323.15" width="18.68" height="18.40" fill="#EC86B6"/>
<rect x="889.76" y="323.15" width="18.68" height="18.40" fill="#A45726"/>
<rect x="908.44" y="323.15" width="18.68" height="18.40" fill="#A45726"/>
<rect x="927.12" y="323.15" width="18.68" height="18.40" fill="#EC86B6"/>
<rect x="945.80" y="323.15" width="18.68" height="18.40" fill="#EC86B6"/>
<rect x="964.48" y="323.15" width="18.68" height="18.40" fill="#EC86B6"/>
<rect x="983.16" y="323.15" width="18.68" height="18.40" fill="#EC86B6"/>
<rect x="1001.84" y="323.15" width="18.68" height="18.40" fill="#A45726"/>
<rect x="1020.52" y="323.15" width="18.68" height="18.40" fill="#EC86B6"/>
<rect x="1039.20" y="323.15" width="18.68" height="18.40" fill="#EC86B6"/>
<rect x="1057.88" y="323.15" width="18.68" height="18.40" fill="#EC86B6"/>
<rect x="1076.56" y="323.15" width="18.68" height="18.40" fill="#EC86B6"/>
<rect x="1095.24" y="323.15" width="18.68" height="18.40" fill="#EC86B6"/>
<rect x="1113.92" y="323.15" width="18.68" height="18.40" fill="#EC86B6"/>
<rect x="1132.60" y="323.15" width="18.68" height="18.40" fill="#EC86B6"/>
<rect x="1151.28" y="323.15" width="18.68" height="18.40" fill="#EC86B6"/>
<rect x="1169.96" y="323.15" width="18.68" height="18.40" fill="#EC86B6"/>
<rect x="1188.64" y="323.15" width="18.68" height="18.40" fill="#A45726"/>
<rect x="1207.32" y="323.15" width="18.68" height="18.40" fill="#A45726"/>
<rect x="1226.00" y="323.15" width="18.68" height="18.40" fill="#EC86B6"/>
<rect x="1244.68" y="323.15" width="18.68" height="18.40" fill="#EC86B6"/>
<rect x="1263.36" y="323.15" width="18.68" height="18.40" fill="#A45726"/>
<rect x="1282.04" y="323.15" width="18.68" height="18.40" fill="#A45726"/>
<rect x="1300.72" y="323.15" width="18.68" height="18.40" fill="#EC86B6"/>
<rect x="1319.40" y="323.15" width="18.68" height="18.40" fill="#EC86B6"/>
<rect x="1338.08" y="323.15" width="18.68" height="18.40" fill="#EC86B6"/>
<rect x="1356.76" y="323.15" width="18.68" height="18.40" fill="#EC86B6"/>
<rect x="1375.44" y="323.15" width="18.68" height="18.40" fill="#EC86B6"/>
<rect x="1394.12" y="323.15" width="18.68" height="18.40" fill="#EC86B6"/>
<rect x="1412.80" y="323.15" width="18.68" height="18.40" fill="#EC86B6"/>
<rect x="1431.48" y="323.15" width="18.68" height="18.40" fill="#EC86B6"/>
<rect x="1450.16" y="323.15" width="18.68" height="18.40" fill="#A45726"/>
<rect x="1468.84" y="323.15" width="18.68" height="18.40" fill="#EC86B6"/>
<rect x="1487.52" y="323.15" width="18.68" height="18.40" fill="#A45726"/>
<rect x="1506.20" y="323.15" width="18.68" height="18.40" fill="#A45726"/>
<rect x="1524.88" y="323.15" width="18.68" height="18.40" fill="#EC86B6"/>
<rect x="1543.56" y="323.15" width="18.68" height="18.40" fill="#EC86B6"/>
<rect x="1562.24" y="323.15" width="18.68" height="18.40" fill="#EC86B6"/>
<rect x="1580.92" y="323.15" width="18.68" height="18.40" fill="#EC86B6"/>
<rect x="1599.60" y="323.15" width="18.68" height="18.40" fill="#EC86B6"/>
<rect x="1618.28" y="323.15" width="18.68" height="18.40" fill="#A45726"/>
<rect x="1636.96" y="323.15" width="18.68" height="18.40" fill="#EC86B6"/>
<rect x="1655.64" y="323.15" width="18.68" height="18.40" fill="#EC86B6"/>
<rect x="1674.32" y="323.15" width="18.68" height="18.40" fill="#EC86B6"/>
</g>
<text x="187.80" y="372.20" font-size="20.4" text-anchor="end" font-weight="bold" fill="#000" class="b">Stage</text>
<g stroke="#141414" stroke-width="1.3">
<rect x="198.60" y="355.62" width="18.68" height="18.40" fill="#2B3A73"/>
<rect x="217.28" y="355.62" width="18.68" height="18.40" fill="#2B3A73"/>
<rect x="235.96" y="355.62" width="18.68" height="18.40" fill="#2B3A73"/>
<rect x="254.64" y="355.62" width="18.68" height="18.40" fill="#2B3A73"/>
<rect x="273.32" y="355.62" width="18.68" height="18.40" fill="#2B3A73"/>
<rect x="292.00" y="355.62" width="18.68" height="18.40" fill="#2B3A73"/>
<rect x="310.68" y="355.62" width="18.68" height="18.40" fill="#2B3A73"/>
<rect x="329.36" y="355.62" width="18.68" height="18.40" fill="#6BAAD7"/>
<rect x="348.04" y="355.62" width="18.68" height="18.40" fill="#2B3A73"/>
<rect x="366.72" y="355.62" width="18.68" height="18.40" fill="#2B3A73"/>
<rect x="385.40" y="355.62" width="18.68" height="18.40" fill="#2B3A73"/>
<rect x="404.08" y="355.62" width="18.68" height="18.40" fill="#2B3A73"/>
<rect x="422.76" y="355.62" width="18.68" height="18.40" fill="#2B3A73"/>
<rect x="441.44" y="355.62" width="18.68" height="18.40" fill="#2B3A73"/>
<rect x="460.12" y="355.62" width="18.68" height="18.40" fill="#2B3A73"/>
<rect x="478.80" y="355.62" width="18.68" height="18.40" fill="#2B3A73"/>
<rect x="497.48" y="355.62" width="18.68" height="18.40" fill="#2B3A73"/>
<rect x="516.16" y="355.62" width="18.68" height="18.40" fill="#2B3A73"/>
<rect x="534.84" y="355.62" width="18.68" height="18.40" fill="#2B3A73"/>
<rect x="553.52" y="355.62" width="18.68" height="18.40" fill="#2B3A73"/>
<rect x="572.20" y="355.62" width="18.68" height="18.40" fill="#2871B3"/>
<rect x="590.88" y="355.62" width="18.68" height="18.40" fill="#2B3A73"/>
<rect x="609.56" y="355.62" width="18.68" height="18.40" fill="#2B3A73"/>
<rect x="628.24" y="355.62" width="18.68" height="18.40" fill="#2871B3"/>
<rect x="646.92" y="355.62" width="18.68" height="18.40" fill="#2B3A73"/>
<rect x="665.60" y="355.62" width="18.68" height="18.40" fill="#2B3A73"/>
<rect x="684.28" y="355.62" width="18.68" height="18.40" fill="#2B3A73"/>
<rect x="702.96" y="355.62" width="18.68" height="18.40" fill="#2B3A73"/>
<rect x="721.64" y="355.62" width="18.68" height="18.40" fill="#2B3A73"/>
<rect x="740.32" y="355.62" width="18.68" height="18.40" fill="#2B3A73"/>
<rect x="759.00" y="355.62" width="18.68" height="18.40" fill="#2B3A73"/>
<rect x="777.68" y="355.62" width="18.68" height="18.40" fill="#2B3A73"/>
<rect x="796.36" y="355.62" width="18.68" height="18.40" fill="#2B3A73"/>
<rect x="815.04" y="355.62" width="18.68" height="18.40" fill="#2871B3"/>
<rect x="833.72" y="355.62" width="18.68" height="18.40" fill="#2B3A73"/>
<rect x="852.40" y="355.62" width="18.68" height="18.40" fill="#2B3A73"/>
<rect x="871.08" y="355.62" width="18.68" height="18.40" fill="#2B3A73"/>
<rect x="889.76" y="355.62" width="18.68" height="18.40" fill="#2871B3"/>
<rect x="908.44" y="355.62" width="18.68" height="18.40" fill="#2B3A73"/>
<rect x="927.12" y="355.62" width="18.68" height="18.40" fill="#2B3A73"/>
<rect x="945.80" y="355.62" width="18.68" height="18.40" fill="#2B3A73"/>
<rect x="964.48" y="355.62" width="18.68" height="18.40" fill="#2B3A73"/>
<rect x="983.16" y="355.62" width="18.68" height="18.40" fill="#2B3A73"/>
<rect x="1001.84" y="355.62" width="18.68" height="18.40" fill="#C6D9EC"/>
<rect x="1020.52" y="355.62" width="18.68" height="18.40" fill="#2B3A73"/>
<rect x="1039.20" y="355.62" width="18.68" height="18.40" fill="#2B3A73"/>
<rect x="1057.88" y="355.62" width="18.68" height="18.40" fill="#2B3A73"/>
<rect x="1076.56" y="355.62" width="18.68" height="18.40" fill="#2871B3"/>
<rect x="1095.24" y="355.62" width="18.68" height="18.40" fill="#2B3A73"/>
<rect x="1113.92" y="355.62" width="18.68" height="18.40" fill="#2B3A73"/>
<rect x="1132.60" y="355.62" width="18.68" height="18.40" fill="#2B3A73"/>
<rect x="1151.28" y="355.62" width="18.68" height="18.40" fill="#2B3A73"/>
<rect x="1169.96" y="355.62" width="18.68" height="18.40" fill="#2B3A73"/>
<rect x="1188.64" y="355.62" width="18.68" height="18.40" fill="#2B3A73"/>
<rect x="1207.32" y="355.62" width="18.68" height="18.40" fill="#2B3A73"/>
<rect x="1226.00" y="355.62" width="18.68" height="18.40" fill="#2B3A73"/>
<rect x="1244.68" y="355.62" width="18.68" height="18.40" fill="#2B3A73"/>
<rect x="1263.36" y="355.62" width="18.68" height="18.40" fill="#2B3A73"/>
<rect x="1282.04" y="355.62" width="18.68" height="18.40" fill="#2B3A73"/>
<rect x="1300.72" y="355.62" width="18.68" height="18.40" fill="#F9FBFA"/>
<rect x="1319.40" y="355.62" width="18.68" height="18.40" fill="#C6D9EC"/>
<rect x="1338.08" y="355.62" width="18.68" height="18.40" fill="#2B3A73"/>
<rect x="1356.76" y="355.62" width="18.68" height="18.40" fill="#6BAAD7"/>
<rect x="1375.44" y="355.62" width="18.68" height="18.40" fill="#2B3A73"/>
<rect x="1394.12" y="355.62" width="18.68" height="18.40" fill="#2B3A73"/>
<rect x="1412.80" y="355.62" width="18.68" height="18.40" fill="#2B3A73"/>
<rect x="1431.48" y="355.62" width="18.68" height="18.40" fill="#2B3A73"/>
<rect x="1450.16" y="355.62" width="18.68" height="18.40" fill="#2B3A73"/>
<rect x="1468.84" y="355.62" width="18.68" height="18.40" fill="#2B3A73"/>
<rect x="1487.52" y="355.62" width="18.68" height="18.40" fill="#2B3A73"/>
<rect x="1506.20" y="355.62" width="18.68" height="18.40" fill="#2B3A73"/>
<rect x="1524.88" y="355.62" width="18.68" height="18.40" fill="#2B3A73"/>
<rect x="1543.56" y="355.62" width="18.68" height="18.40" fill="#2871B3"/>
<rect x="1562.24" y="355.62" width="18.68" height="18.40" fill="#2B3A73"/>
<rect x="1580.92" y="355.62" width="18.68" height="18.40" fill="#2B3A73"/>
<rect x="1599.60" y="355.62" width="18.68" height="18.40" fill="#2B3A73"/>
<rect x="1618.28" y="355.62" width="18.68" height="18.40" fill="#F9FBFA"/>
<rect x="1636.96" y="355.62" width="18.68" height="18.40" fill="#6BAAD7"/>
<rect x="1655.64" y="355.62" width="18.68" height="18.40" fill="#2B3A73"/>
<rect x="1674.32" y="355.62" width="18.68" height="18.40" fill="#2B3A73"/>
</g>
<text x="187.80" y="402.10" font-size="20.4" text-anchor="end" font-weight="bold" fill="#000" class="b">Metastasis</text>
<g stroke="#141414" stroke-width="1.3">
<rect x="198.60" y="388.09" width="18.68" height="18.40" fill="#BA80BA"/>
<rect x="217.28" y="388.09" width="18.68" height="18.40" fill="#CEE8C6"/>
<rect x="235.96" y="388.09" width="18.68" height="18.40" fill="#BA80BA"/>
<rect x="254.64" y="388.09" width="18.68" height="18.40" fill="#BA80BA"/>
<rect x="273.32" y="388.09" width="18.68" height="18.40" fill="#BA80BA"/>
<rect x="292.00" y="388.09" width="18.68" height="18.40" fill="#BA80BA"/>
<rect x="310.68" y="388.09" width="18.68" height="18.40" fill="#BA80BA"/>
<rect x="329.36" y="388.09" width="18.68" height="18.40" fill="#CEE8C6"/>
<rect x="348.04" y="388.09" width="18.68" height="18.40" fill="#BA80BA"/>
<rect x="366.72" y="388.09" width="18.68" height="18.40" fill="#BA80BA"/>
<rect x="385.40" y="388.09" width="18.68" height="18.40" fill="#BA80BA"/>
<rect x="404.08" y="388.09" width="18.68" height="18.40" fill="#BA80BA"/>
<rect x="422.76" y="388.09" width="18.68" height="18.40" fill="#BA80BA"/>
<rect x="441.44" y="388.09" width="18.68" height="18.40" fill="#BA80BA"/>
<rect x="460.12" y="388.09" width="18.68" height="18.40" fill="#BA80BA"/>
<rect x="478.80" y="388.09" width="18.68" height="18.40" fill="#BA80BA"/>
<rect x="497.48" y="388.09" width="18.68" height="18.40" fill="#BA80BA"/>
<rect x="516.16" y="388.09" width="18.68" height="18.40" fill="#BA80BA"/>
<rect x="534.84" y="388.09" width="18.68" height="18.40" fill="#BA80BA"/>
<rect x="553.52" y="388.09" width="18.68" height="18.40" fill="#BA80BA"/>
<rect x="572.20" y="388.09" width="18.68" height="18.40" fill="#CEE8C6"/>
<rect x="590.88" y="388.09" width="18.68" height="18.40" fill="#BA80BA"/>
<rect x="609.56" y="388.09" width="18.68" height="18.40" fill="#BA80BA"/>
<rect x="628.24" y="388.09" width="18.68" height="18.40" fill="#CEE8C6"/>
<rect x="646.92" y="388.09" width="18.68" height="18.40" fill="#BA80BA"/>
<rect x="665.60" y="388.09" width="18.68" height="18.40" fill="#BA80BA"/>
<rect x="684.28" y="388.09" width="18.68" height="18.40" fill="#BA80BA"/>
<rect x="702.96" y="388.09" width="18.68" height="18.40" fill="#BA80BA"/>
<rect x="721.64" y="388.09" width="18.68" height="18.40" fill="#BA80BA"/>
<rect x="740.32" y="388.09" width="18.68" height="18.40" fill="#BA80BA"/>
<rect x="759.00" y="388.09" width="18.68" height="18.40" fill="#BA80BA"/>
<rect x="777.68" y="388.09" width="18.68" height="18.40" fill="#BA80BA"/>
<rect x="796.36" y="388.09" width="18.68" height="18.40" fill="#BA80BA"/>
<rect x="815.04" y="388.09" width="18.68" height="18.40" fill="#CEE8C6"/>
<rect x="833.72" y="388.09" width="18.68" height="18.40" fill="#BA80BA"/>
<rect x="852.40" y="388.09" width="18.68" height="18.40" fill="#BA80BA"/>
<rect x="871.08" y="388.09" width="18.68" height="18.40" fill="#BA80BA"/>
<rect x="889.76" y="388.09" width="18.68" height="18.40" fill="#CEE8C6"/>
<rect x="908.44" y="388.09" width="18.68" height="18.40" fill="#BA80BA"/>
<rect x="927.12" y="388.09" width="18.68" height="18.40" fill="#BA80BA"/>
<rect x="945.80" y="388.09" width="18.68" height="18.40" fill="#BA80BA"/>
<rect x="964.48" y="388.09" width="18.68" height="18.40" fill="#BA80BA"/>
<rect x="983.16" y="388.09" width="18.68" height="18.40" fill="#BA80BA"/>
<rect x="1001.84" y="388.09" width="18.68" height="18.40" fill="#CEE8C6"/>
<rect x="1020.52" y="388.09" width="18.68" height="18.40" fill="#BA80BA"/>
<rect x="1039.20" y="388.09" width="18.68" height="18.40" fill="#BA80BA"/>
<rect x="1057.88" y="388.09" width="18.68" height="18.40" fill="#BA80BA"/>
<rect x="1076.56" y="388.09" width="18.68" height="18.40" fill="#CEE8C6"/>
<rect x="1095.24" y="388.09" width="18.68" height="18.40" fill="#BA80BA"/>
<rect x="1113.92" y="388.09" width="18.68" height="18.40" fill="#BA80BA"/>
<rect x="1132.60" y="388.09" width="18.68" height="18.40" fill="#BA80BA"/>
<rect x="1151.28" y="388.09" width="18.68" height="18.40" fill="#BA80BA"/>
<rect x="1169.96" y="388.09" width="18.68" height="18.40" fill="#BA80BA"/>
<rect x="1188.64" y="388.09" width="18.68" height="18.40" fill="#BA80BA"/>
<rect x="1207.32" y="388.09" width="18.68" height="18.40" fill="#BA80BA"/>
<rect x="1226.00" y="388.09" width="18.68" height="18.40" fill="#BA80BA"/>
<rect x="1244.68" y="388.09" width="18.68" height="18.40" fill="#BA80BA"/>
<rect x="1263.36" y="388.09" width="18.68" height="18.40" fill="#BA80BA"/>
<rect x="1282.04" y="388.09" width="18.68" height="18.40" fill="#BA80BA"/>
<rect x="1300.72" y="388.09" width="18.68" height="18.40" fill="#CEE8C6"/>
<rect x="1319.40" y="388.09" width="18.68" height="18.40" fill="#CEE8C6"/>
<rect x="1338.08" y="388.09" width="18.68" height="18.40" fill="#BA80BA"/>
<rect x="1356.76" y="388.09" width="18.68" height="18.40" fill="#CEE8C6"/>
<rect x="1375.44" y="388.09" width="18.68" height="18.40" fill="#BA80BA"/>
<rect x="1394.12" y="388.09" width="18.68" height="18.40" fill="#BA80BA"/>
<rect x="1412.80" y="388.09" width="18.68" height="18.40" fill="#BA80BA"/>
<rect x="1431.48" y="388.09" width="18.68" height="18.40" fill="#BA80BA"/>
<rect x="1450.16" y="388.09" width="18.68" height="18.40" fill="#BA80BA"/>
<rect x="1468.84" y="388.09" width="18.68" height="18.40" fill="#BA80BA"/>
<rect x="1487.52" y="388.09" width="18.68" height="18.40" fill="#BA80BA"/>
<rect x="1506.20" y="388.09" width="18.68" height="18.40" fill="#BA80BA"/>
<rect x="1524.88" y="388.09" width="18.68" height="18.40" fill="#BA80BA"/>
<rect x="1543.56" y="388.09" width="18.68" height="18.40" fill="#CEE8C6"/>
<rect x="1562.24" y="388.09" width="18.68" height="18.40" fill="#BA80BA"/>
<rect x="1580.92" y="388.09" width="18.68" height="18.40" fill="#BA80BA"/>
<rect x="1599.60" y="388.09" width="18.68" height="18.40" fill="#BA80BA"/>
<rect x="1618.28" y="388.09" width="18.68" height="18.40" fill="#CEE8C6"/>
<rect x="1636.96" y="388.09" width="18.68" height="18.40" fill="#CEE8C6"/>
<rect x="1655.64" y="388.09" width="18.68" height="18.40" fill="#BA80BA"/>
<rect x="1674.32" y="388.09" width="18.68" height="18.40" fill="#BA80BA"/>
</g>
<rect x="200.00" y="426.30" width="1492.30" height="932.35" fill="#E5E5E5"/>
<path d="M217.63 425.25V1359.70M236.31 425.25V1359.70M254.99 425.25V1359.70M273.67 425.25V1359.70M292.35 425.25V1359.70M311.03 425.25V1359.70M329.71 425.25V1359.70M348.39 425.25V1359.70M367.07 425.25V1359.70M385.75 425.25V1359.70M404.43 425.25V1359.70M423.11 425.25V1359.70M441.79 425.25V1359.70M460.47 425.25V1359.70M479.15 425.25V1359.70M497.83 425.25V1359.70M516.51 425.25V1359.70M535.19 425.25V1359.70M553.87 425.25V1359.70M572.55 425.25V1359.70M591.23 425.25V1359.70M609.91 425.25V1359.70M628.59 425.25V1359.70M647.27 425.25V1359.70M665.95 425.25V1359.70M684.63 425.25V1359.70M703.31 425.25V1359.70M721.99 425.25V1359.70M740.67 425.25V1359.70M759.35 425.25V1359.70M778.03 425.25V1359.70M796.71 425.25V1359.70M815.39 425.25V1359.70M834.07 425.25V1359.70M852.75 425.25V1359.70M871.43 425.25V1359.70M890.11 425.25V1359.70M908.79 425.25V1359.70M927.47 425.25V1359.70M946.15 425.25V1359.70M964.83 425.25V1359.70M983.51 425.25V1359.70M1002.19 425.25V1359.70M1020.87 425.25V1359.70M1039.55 425.25V1359.70M1058.23 425.25V1359.70M1076.91 425.25V1359.70M1095.59 425.25V1359.70M1114.27 425.25V1359.70M1132.95 425.25V1359.70M1151.63 425.25V1359.70M1170.31 425.25V1359.70M1188.99 425.25V1359.70M1207.67 425.25V1359.70M1226.35 425.25V1359.70M1245.03 425.25V1359.70M1263.71 425.25V1359.70M1282.39 425.25V1359.70M1301.07 425.25V1359.70M1319.75 425.25V1359.70M1338.43 425.25V1359.70M1357.11 425.25V1359.70M1375.79 425.25V1359.70M1394.47 425.25V1359.70M1413.15 425.25V1359.70M1431.83 425.25V1359.70M1450.51 425.25V1359.70M1469.19 425.25V1359.70M1487.87 425.25V1359.70M1506.55 425.25V1359.70M1525.23 425.25V1359.70M1543.91 425.25V1359.70M1562.59 425.25V1359.70M1581.27 425.25V1359.70M1599.95 425.25V1359.70M1618.63 425.25V1359.70M1637.31 425.25V1359.70M1655.99 425.25V1359.70M1674.67 425.25V1359.70M198.95 443.94H1693.35M198.95 462.63H1693.35M198.95 481.32H1693.35M198.95 500.01H1693.35M198.95 518.69H1693.35M198.95 537.38H1693.35M198.95 556.07H1693.35M198.95 574.76H1693.35M198.95 593.45H1693.35M198.95 612.14H1693.35M198.95 630.83H1693.35M198.95 649.52H1693.35M198.95 668.21H1693.35M198.95 686.90H1693.35M198.95 705.59H1693.35M198.95 724.27H1693.35M198.95 742.96H1693.35M198.95 761.65H1693.35M198.95 780.34H1693.35M198.95 799.03H1693.35M198.95 817.72H1693.35M198.95 836.41H1693.35M198.95 855.10H1693.35M198.95 873.79H1693.35M198.95 892.48H1693.35M198.95 911.16H1693.35M198.95 929.85H1693.35M198.95 948.54H1693.35M198.95 967.23H1693.35M198.95 985.92H1693.35M198.95 1004.61H1693.35M198.95 1023.30H1693.35M198.95 1041.99H1693.35M198.95 1060.68H1693.35M198.95 1079.37H1693.35M198.95 1098.05H1693.35M198.95 1116.74H1693.35M198.95 1135.43H1693.35M198.95 1154.12H1693.35M198.95 1172.81H1693.35M198.95 1191.50H1693.35M198.95 1210.19H1693.35M198.95 1228.88H1693.35M198.95 1247.57H1693.35M198.95 1266.26H1693.35M198.95 1284.94H1693.35M198.95 1303.63H1693.35M198.95 1322.32H1693.35M198.95 1341.01H1693.35" stroke="#fff" stroke-width="2.1" fill="none"/>
<rect x="200.00" y="426.30" width="16.58" height="16.59" fill="#342F7C"/>
<rect x="218.68" y="426.30" width="16.58" height="16.59" fill="#342F7C"/>
<rect x="237.36" y="426.30" width="16.58" height="16.59" fill="#342F7C"/>
<text x="188.60" y="439.19" font-size="17.1" text-anchor="end" font-weight="bold" fill="#000" class="b">POLQ</text>
<rect x="256.04" y="444.99" width="16.58" height="16.59" fill="#2A8B5C"/>
<rect x="274.72" y="444.99" width="16.58" height="16.59" fill="#2A8B5C"/>
<rect x="293.40" y="444.99" width="16.58" height="16.59" fill="#2A8B5C"/>
<text x="188.60" y="460.48" font-size="17.1" text-anchor="end" font-weight="bold" fill="#000" class="b">KLK6</text>
<rect x="293.40" y="463.68" width="16.58" height="16.59" fill="#342F7C"/>
<rect x="312.08" y="463.68" width="16.58" height="16.59" fill="#342F7C"/>
<rect x="330.76" y="463.68" width="16.58" height="16.59" fill="#342F7C"/>
<text x="188.60" y="479.27" font-size="17.1" text-anchor="end" font-weight="bold" fill="#000" class="b">ITGA7</text>
<rect x="349.44" y="482.37" width="16.58" height="16.59" fill="#342F7C"/>
<rect x="368.12" y="482.37" width="16.58" height="16.59" fill="#342F7C"/>
<rect x="386.80" y="482.37" width="16.58" height="16.59" fill="#342F7C"/>
<text x="188.60" y="497.76" font-size="17.1" text-anchor="end" font-weight="bold" fill="#000" class="b">CNDP2</text>
<rect x="405.48" y="501.06" width="16.58" height="16.59" fill="#2A8B5C"/>
<rect x="424.16" y="501.06" width="16.58" height="16.59" fill="#342F7C"/>
<text x="188.60" y="516.65" font-size="17.1" text-anchor="end" font-weight="bold" fill="#000" class="b">TET2</text>
<rect x="442.84" y="519.74" width="16.58" height="16.59" fill="#342F7C"/>
<rect x="461.52" y="519.74" width="16.58" height="16.59" fill="#2A8B5C"/>
<text x="188.10" y="535.34" font-size="17.1" text-anchor="end" font-weight="bold" fill="#000" class="b">SYNM</text>
<rect x="368.12" y="538.43" width="16.58" height="16.59" fill="#2A8B5C"/>
<rect x="480.20" y="538.43" width="16.58" height="16.59" fill="#2A8B5C"/>
<text x="188.60" y="553.83" font-size="17.1" text-anchor="end" font-weight="bold" fill="#000" class="b">EPHB6</text>
<rect x="498.88" y="557.12" width="16.58" height="16.59" fill="#2A8B5C"/>
<text x="190.00" y="572.42" font-size="17.1" text-anchor="end" font-weight="bold" fill="#000" class="b">XPA</text>
<rect x="517.56" y="575.81" width="16.58" height="16.59" fill="#342F7C"/>
<text x="189.70" y="591.31" font-size="17.1" text-anchor="end" font-weight="bold" fill="#000" class="b">VEGFA</text>
<rect x="536.24" y="594.50" width="16.58" height="16.59" fill="#342F7C"/>
<text x="188.60" y="609.90" font-size="17.1" text-anchor="end" font-weight="bold" fill="#000" class="b">TSLP</text>
<rect x="554.92" y="613.19" width="16.58" height="16.59" fill="#2A8B5C"/>
<text x="181.30" y="626.18" font-size="17.1" text-anchor="end" font-weight="bold" fill="#000" class="b">TRIM32</text>
<rect x="237.36" y="631.88" width="16.58" height="16.59" fill="#2A8B5C"/>
<text x="189.70" y="646.97" font-size="17.1" text-anchor="end" font-weight="bold" fill="#000" class="b">TFAP2A</text>
<rect x="573.60" y="650.57" width="16.58" height="16.59" fill="#342F7C"/>
<text x="188.60" y="666.06" font-size="17.1" text-anchor="end" font-weight="bold" fill="#000" class="b">TCHP</text>
<rect x="592.28" y="669.26" width="16.58" height="16.59" fill="#342F7C"/>
<text x="188.60" y="684.65" font-size="17.1" text-anchor="end" font-weight="bold" fill="#000" class="b">TCF7L2</text>
<rect x="610.96" y="687.95" width="16.58" height="16.59" fill="#2A8B5C"/>
<text x="188.60" y="703.24" font-size="17.1" text-anchor="end" font-weight="bold" fill="#000" class="b">RNASEL</text>
<rect x="629.64" y="706.63" width="16.58" height="16.59" fill="#342F7C"/>
<text x="188.60" y="720.43" font-size="17.1" text-anchor="end" font-weight="bold" fill="#000" class="b">RECQL4</text>
<rect x="648.32" y="725.32" width="16.58" height="16.59" fill="#2A8B5C"/>
<text x="188.60" y="740.72" font-size="17.1" text-anchor="end" font-weight="bold" fill="#000" class="b">PTPN13</text>
<rect x="667.00" y="744.01" width="16.58" height="16.59" fill="#2A8B5C"/>
<text x="188.60" y="757.81" font-size="17.1" text-anchor="end" font-weight="bold" fill="#000" class="b">PTK6</text>
<rect x="293.40" y="762.70" width="16.58" height="16.59" fill="#2A8B5C"/>
<text x="188.10" y="778.10" font-size="17.1" text-anchor="end" font-weight="bold" fill="#000" class="b">PTGDR</text>
<rect x="517.56" y="781.39" width="16.58" height="16.59" fill="#2A8B5C"/>
<text x="188.60" y="796.39" font-size="17.1" text-anchor="end" font-weight="bold" fill="#000" class="b">PRR5</text>
<rect x="685.68" y="800.08" width="16.58" height="16.59" fill="#2A8B5C"/>
<text x="188.60" y="815.67" font-size="17.1" text-anchor="end" font-weight="bold" fill="#000" class="b">PRKCDBP</text>
<rect x="704.36" y="818.77" width="16.58" height="16.59" fill="#342F7C"/>
<text x="186.90" y="832.16" font-size="17.1" text-anchor="end" font-weight="bold" fill="#000" class="b">PINX1</text>
<rect x="312.08" y="837.46" width="16.58" height="16.59" fill="#342F7C"/>
<text x="189.70" y="852.85" font-size="17.1" text-anchor="end" font-weight="bold" fill="#000" class="b">PANX2</text>
<rect x="723.04" y="856.15" width="16.58" height="16.59" fill="#2A8B5C"/>
<text x="186.90" y="873.34" font-size="17.1" text-anchor="end" font-weight="bold" fill="#000" class="b">OSCP1</text>
<rect x="741.72" y="874.84" width="16.58" height="16.59" fill="#342F7C"/>
<text x="188.60" y="890.13" font-size="17.1" text-anchor="end" font-weight="bold" fill="#000" class="b">NIT2</text>
<rect x="386.80" y="893.52" width="16.58" height="16.59" fill="#342F7C"/>
<text x="188.60" y="907.02" font-size="17.1" text-anchor="end" font-weight="bold" fill="#000" class="b">NAB2</text>
<rect x="760.40" y="912.21" width="16.58" height="16.59" fill="#2A8B5C"/>
<text x="188.60" y="927.21" font-size="17.1" text-anchor="end" font-weight="bold" fill="#000" class="b">MYBBP1A</text>
<rect x="779.08" y="930.90" width="16.58" height="16.59" fill="#342F7C"/>
<text x="188.60" y="945.90" font-size="17.1" text-anchor="end" font-weight="bold" fill="#000" class="b">MOB1A</text>
<rect x="797.76" y="949.59" width="16.58" height="16.59" fill="#2A8B5C"/>
<text x="188.60" y="965.19" font-size="17.1" text-anchor="end" font-weight="bold" fill="#000" class="b">IQGAP2</text>
<rect x="816.44" y="968.28" width="16.58" height="16.59" fill="#342F7C"/>
<text x="186.90" y="983.28" font-size="17.1" text-anchor="end" font-weight="bold" fill="#000" class="b">ING1</text>
<rect x="835.12" y="986.97" width="16.58" height="16.59" fill="#2A8B5C"/>
<text x="188.10" y="1001.96" font-size="17.1" text-anchor="end" font-weight="bold" fill="#000" class="b">IGF2R</text>
<rect x="853.80" y="1005.66" width="16.58" height="16.59" fill="#2A8B5C"/>
<text x="188.60" y="1018.95" font-size="17.1" text-anchor="end" font-weight="bold" fill="#000" class="b">HTRA3</text>
<rect x="554.92" y="1024.35" width="16.58" height="16.59" fill="#2A8B5C"/>
<text x="188.60" y="1039.34" font-size="17.1" text-anchor="end" font-weight="bold" fill="#000" class="b">HIVEP3</text>
<rect x="517.56" y="1043.04" width="16.58" height="16.59" fill="#342F7C"/>
<text x="188.60" y="1058.78" font-size="17.1" text-anchor="end" font-weight="bold" fill="#000" class="b">GPRC5A</text>
<rect x="760.40" y="1061.73" width="16.58" height="16.59" fill="#2A8B5C"/>
<text x="188.10" y="1077.12" font-size="17.1" text-anchor="end" font-weight="bold" fill="#000" class="b">GORAB</text>
<rect x="872.48" y="1080.41" width="16.58" height="16.59" fill="#342F7C"/>
<text x="188.60" y="1095.71" font-size="17.1" text-anchor="end" font-weight="bold" fill="#000" class="b">GNMT</text>
<rect x="891.16" y="1099.10" width="16.58" height="16.59" fill="#E87A25"/>
<text x="189.70" y="1114.00" font-size="17.1" text-anchor="end" font-weight="bold" fill="#000" class="b">FANCA</text>
<rect x="237.36" y="1117.79" width="16.58" height="16.59" fill="#E87A25"/>
<text x="188.60" y="1132.79" font-size="17.1" text-anchor="end" font-weight="bold" fill="#000" class="b">EPHB2</text>
<rect x="909.84" y="1136.48" width="16.58" height="16.59" fill="#342F7C"/>
<text x="186.90" y="1151.48" font-size="17.1" text-anchor="end" font-weight="bold" fill="#000" class="b">DLG1</text>
<rect x="928.52" y="1155.17" width="16.58" height="16.59" fill="#342F7C"/>
<text x="188.60" y="1169.97" font-size="17.1" text-anchor="end" font-weight="bold" fill="#000" class="b">DCDC2</text>
<rect x="947.20" y="1173.86" width="16.58" height="16.59" fill="#2A8B5C"/>
<text x="188.60" y="1187.05" font-size="17.1" text-anchor="end" font-weight="bold" fill="#000" class="b">CMTM5</text>
<rect x="965.88" y="1192.55" width="16.58" height="16.59" fill="#342F7C"/>
<text x="188.60" y="1207.64" font-size="17.1" text-anchor="end" font-weight="bold" fill="#000" class="b">CLTCL1</text>
<rect x="984.56" y="1211.24" width="16.58" height="16.59" fill="#342F7C"/>
<text x="186.90" y="1226.53" font-size="17.1" text-anchor="end" font-weight="bold" fill="#000" class="b">CEACAM1</text>
<rect x="312.08" y="1229.93" width="16.58" height="16.59" fill="#2A8B5C"/>
<text x="188.60" y="1245.32" font-size="17.1" text-anchor="end" font-weight="bold" fill="#000" class="b">CCDC136</text>
<rect x="704.36" y="1248.62" width="16.58" height="16.59" fill="#342F7C"/>
<text x="188.60" y="1264.01" font-size="17.1" text-anchor="end" font-weight="bold" fill="#000" class="b">BRCA2</text>
<rect x="835.12" y="1267.31" width="16.58" height="16.59" fill="#2A8B5C"/>
<text x="188.10" y="1282.30" font-size="17.1" text-anchor="end" font-weight="bold" fill="#000" class="b">ARL11</text>
<rect x="424.16" y="1285.99" width="16.58" height="16.59" fill="#2A8B5C"/>
<text x="188.60" y="1299.39" font-size="17.1" text-anchor="end" font-weight="bold" fill="#000" class="b">ARID1B</text>
<rect x="1003.24" y="1304.68" width="16.58" height="16.59" fill="#342F7C"/>
<text x="186.90" y="1318.08" font-size="17.1" text-anchor="end" font-weight="bold" fill="#000" class="b">AKR1B1</text>
<rect x="1021.92" y="1323.37" width="16.58" height="16.59" fill="#342F7C"/>
<text x="188.60" y="1336.77" font-size="17.1" text-anchor="end" font-weight="bold" fill="#000" class="b">AKAP12</text>
<rect x="274.72" y="1342.06" width="16.58" height="16.59" fill="#2A8B5C"/>
<text x="188.10" y="1355.46" font-size="17.1" text-anchor="end" font-weight="bold" fill="#000" class="b">ADPRH</text>
<text x="0.00" y="0.00" font-size="17.45" text-anchor="start" font-weight="bold" fill="#000" transform="translate(214.49,1440.00) rotate(-90)" class="b">WCM011</text>
<text x="0.00" y="0.00" font-size="17.45" text-anchor="start" font-weight="bold" fill="#000" transform="translate(233.20,1440.00) rotate(-90)" class="b">WCM022</text>
<text x="0.00" y="0.00" font-size="17.45" text-anchor="start" font-weight="bold" fill="#000" transform="translate(251.90,1440.00) rotate(-90)" class="b">WCM036</text>
<text x="0.00" y="0.00" font-size="17.45" text-anchor="start" font-weight="bold" fill="#000" transform="translate(270.61,1440.00) rotate(-90)" class="b">WCM056</text>
<text x="0.00" y="0.00" font-size="17.45" text-anchor="start" font-weight="bold" fill="#000" transform="translate(289.31,1440.00) rotate(-90)" class="b">WCM065</text>
<text x="0.00" y="0.00" font-size="17.45" text-anchor="start" font-weight="bold" fill="#000" transform="translate(308.02,1440.00) rotate(-90)" class="b">WCM076</text>
<text x="0.00" y="0.00" font-size="17.45" text-anchor="start" font-weight="bold" fill="#000" transform="translate(326.73,1440.00) rotate(-90)" class="b">WCM045</text>
<text x="0.00" y="0.00" font-size="17.45" text-anchor="start" font-weight="bold" fill="#000" transform="translate(345.43,1440.00) rotate(-90)" class="b">WCM064</text>
<text x="0.00" y="0.00" font-size="17.45" text-anchor="start" font-weight="bold" fill="#000" transform="translate(364.14,1440.00) rotate(-90)" class="b">WCM001</text>
<text x="0.00" y="0.00" font-size="17.45" text-anchor="start" font-weight="bold" fill="#000" transform="translate(382.84,1440.00) rotate(-90)" class="b">WCM002</text>
<text x="0.00" y="0.00" font-size="17.45" text-anchor="start" font-weight="bold" fill="#000" transform="translate(401.55,1440.00) rotate(-90)" class="b">WCM007</text>
<text x="0.00" y="0.00" font-size="17.45" text-anchor="start" font-weight="bold" fill="#000" transform="translate(420.26,1440.00) rotate(-90)" class="b">WCM015</text>
<text x="0.00" y="0.00" font-size="17.45" text-anchor="start" font-weight="bold" fill="#000" transform="translate(438.96,1440.00) rotate(-90)" class="b">WCM057</text>
<text x="0.00" y="0.00" font-size="17.45" text-anchor="start" font-weight="bold" fill="#000" transform="translate(457.67,1440.00) rotate(-90)" class="b">WCM016</text>
<text x="0.00" y="0.00" font-size="17.45" text-anchor="start" font-weight="bold" fill="#000" transform="translate(476.37,1440.00) rotate(-90)" class="b">WCM035</text>
<text x="0.00" y="0.00" font-size="17.45" text-anchor="start" font-weight="bold" fill="#000" transform="translate(495.08,1440.00) rotate(-90)" class="b">WCM067</text>
<text x="0.00" y="0.00" font-size="17.45" text-anchor="start" font-weight="bold" fill="#000" transform="translate(513.78,1440.00) rotate(-90)" class="b">WCM049</text>
<text x="0.00" y="0.00" font-size="17.45" text-anchor="start" font-weight="bold" fill="#000" transform="translate(532.49,1440.00) rotate(-90)" class="b">WCM012</text>
<text x="0.00" y="0.00" font-size="17.45" text-anchor="start" font-weight="bold" fill="#000" transform="translate(551.20,1440.00) rotate(-90)" class="b">WCM029</text>
<text x="0.00" y="0.00" font-size="17.45" text-anchor="start" font-weight="bold" fill="#000" transform="translate(569.90,1440.00) rotate(-90)" class="b">WCM053</text>
<text x="0.00" y="0.00" font-size="17.45" text-anchor="start" font-weight="bold" fill="#000" transform="translate(588.61,1440.00) rotate(-90)" class="b">WCM055</text>
<text x="0.00" y="0.00" font-size="17.45" text-anchor="start" font-weight="bold" fill="#000" transform="translate(607.31,1440.00) rotate(-90)" class="b">WCM054</text>
<text x="0.00" y="0.00" font-size="17.45" text-anchor="start" font-weight="bold" fill="#000" transform="translate(626.02,1440.00) rotate(-90)" class="b">WCM066</text>
<text x="0.00" y="0.00" font-size="17.45" text-anchor="start" font-weight="bold" fill="#000" transform="translate(644.73,1440.00) rotate(-90)" class="b">WCM019</text>
<text x="0.00" y="0.00" font-size="17.45" text-anchor="start" font-weight="bold" fill="#000" transform="translate(663.43,1440.00) rotate(-90)" class="b">WCM014</text>
<text x="0.00" y="0.00" font-size="17.45" text-anchor="start" font-weight="bold" fill="#000" transform="translate(682.14,1440.00) rotate(-90)" class="b">WCM075</text>
<text x="0.00" y="0.00" font-size="17.45" text-anchor="start" font-weight="bold" fill="#000" transform="translate(700.84,1440.00) rotate(-90)" class="b">WCM003</text>
<text x="0.00" y="0.00" font-size="17.45" text-anchor="start" font-weight="bold" fill="#000" transform="translate(719.55,1440.00) rotate(-90)" class="b">WCM072</text>
<text x="0.00" y="0.00" font-size="17.45" text-anchor="start" font-weight="bold" fill="#000" transform="translate(738.23,1440.00) rotate(-90)" class="b">WCM005</text>
<text x="0.00" y="0.00" font-size="17.45" text-anchor="start" font-weight="bold" fill="#000" transform="translate(756.91,1440.00) rotate(-90)" class="b">WCM052</text>
<text x="0.00" y="0.00" font-size="17.45" text-anchor="start" font-weight="bold" fill="#000" transform="translate(775.59,1440.00) rotate(-90)" class="b">WCM024</text>
<text x="0.00" y="0.00" font-size="17.45" text-anchor="start" font-weight="bold" fill="#000" transform="translate(794.27,1440.00) rotate(-90)" class="b">WCM017</text>
<text x="0.00" y="0.00" font-size="17.45" text-anchor="start" font-weight="bold" fill="#000" transform="translate(812.95,1440.00) rotate(-90)" class="b">WCM061</text>
<text x="0.00" y="0.00" font-size="17.45" text-anchor="start" font-weight="bold" fill="#000" transform="translate(831.63,1440.00) rotate(-90)" class="b">WCM046</text>
<text x="0.00" y="0.00" font-size="17.45" text-anchor="start" font-weight="bold" fill="#000" transform="translate(850.31,1440.00) rotate(-90)" class="b">WCM033</text>
<text x="0.00" y="0.00" font-size="17.45" text-anchor="start" font-weight="bold" fill="#000" transform="translate(868.99,1440.00) rotate(-90)" class="b">WCM010</text>
<text x="0.00" y="0.00" font-size="17.45" text-anchor="start" font-weight="bold" fill="#000" transform="translate(887.67,1440.00) rotate(-90)" class="b">WCM023</text>
<text x="0.00" y="0.00" font-size="17.45" text-anchor="start" font-weight="bold" fill="#000" transform="translate(906.35,1440.00) rotate(-90)" class="b">WCM040</text>
<text x="0.00" y="0.00" font-size="17.45" text-anchor="start" font-weight="bold" fill="#000" transform="translate(925.03,1440.00) rotate(-90)" class="b">WCM013</text>
<text x="0.00" y="0.00" font-size="17.45" text-anchor="start" font-weight="bold" fill="#000" transform="translate(943.71,1440.00) rotate(-90)" class="b">WCM062</text>
<text x="0.00" y="0.00" font-size="17.45" text-anchor="start" font-weight="bold" fill="#000" transform="translate(962.39,1440.00) rotate(-90)" class="b">WCM027</text>
<text x="0.00" y="0.00" font-size="17.45" text-anchor="start" font-weight="bold" fill="#000" transform="translate(981.07,1440.00) rotate(-90)" class="b">WCM047</text>
<text x="0.00" y="0.00" font-size="17.45" text-anchor="start" font-weight="bold" fill="#000" transform="translate(999.75,1440.00) rotate(-90)" class="b">WCM018</text>
<text x="0.00" y="0.00" font-size="17.45" text-anchor="start" font-weight="bold" fill="#000" transform="translate(1018.43,1440.00) rotate(-90)" class="b">WCM080</text>
<text x="0.00" y="0.00" font-size="17.45" text-anchor="start" font-weight="bold" fill="#000" transform="translate(1037.11,1440.00) rotate(-90)" class="b">WCM058</text>
<text x="0.00" y="0.00" font-size="17.45" text-anchor="start" font-weight="bold" fill="#000" transform="translate(1055.79,1440.00) rotate(-90)" class="b">WCM004</text>
<text x="0.00" y="0.00" font-size="17.45" text-anchor="start" font-weight="bold" fill="#000" transform="translate(1074.47,1440.00) rotate(-90)" class="b">WCM006</text>
<text x="0.00" y="0.00" font-size="17.45" text-anchor="start" font-weight="bold" fill="#000" transform="translate(1093.15,1440.00) rotate(-90)" class="b">WCM008</text>
<text x="0.00" y="0.00" font-size="17.45" text-anchor="start" font-weight="bold" fill="#000" transform="translate(1111.83,1440.00) rotate(-90)" class="b">WCM009</text>
<text x="0.00" y="0.00" font-size="17.45" text-anchor="start" font-weight="bold" fill="#000" transform="translate(1130.51,1440.00) rotate(-90)" class="b">WCM020</text>
<text x="0.00" y="0.00" font-size="17.45" text-anchor="start" font-weight="bold" fill="#000" transform="translate(1149.19,1440.00) rotate(-90)" class="b">WCM021</text>
<text x="0.00" y="0.00" font-size="17.45" text-anchor="start" font-weight="bold" fill="#000" transform="translate(1167.87,1440.00) rotate(-90)" class="b">WCM025</text>
<text x="0.00" y="0.00" font-size="17.45" text-anchor="start" font-weight="bold" fill="#000" transform="translate(1186.55,1440.00) rotate(-90)" class="b">WCM026</text>
<text x="0.00" y="0.00" font-size="17.45" text-anchor="start" font-weight="bold" fill="#000" transform="translate(1205.23,1440.00) rotate(-90)" class="b">WCM028</text>
<text x="0.00" y="0.00" font-size="17.45" text-anchor="start" font-weight="bold" fill="#000" transform="translate(1223.91,1440.00) rotate(-90)" class="b">WCM030</text>
<text x="0.00" y="0.00" font-size="17.45" text-anchor="start" font-weight="bold" fill="#000" transform="translate(1242.59,1440.00) rotate(-90)" class="b">WCM031</text>
<text x="0.00" y="0.00" font-size="17.45" text-anchor="start" font-weight="bold" fill="#000" transform="translate(1261.27,1440.00) rotate(-90)" class="b">WCM032</text>
<text x="0.00" y="0.00" font-size="17.45" text-anchor="start" font-weight="bold" fill="#000" transform="translate(1279.95,1440.00) rotate(-90)" class="b">WCM034</text>
<text x="0.00" y="0.00" font-size="17.45" text-anchor="start" font-weight="bold" fill="#000" transform="translate(1298.63,1440.00) rotate(-90)" class="b">WCM037</text>
<text x="0.00" y="0.00" font-size="17.45" text-anchor="start" font-weight="bold" fill="#000" transform="translate(1317.31,1440.00) rotate(-90)" class="b">WCM038</text>
<text x="0.00" y="0.00" font-size="17.45" text-anchor="start" font-weight="bold" fill="#000" transform="translate(1335.99,1440.00) rotate(-90)" class="b">WCM039</text>
<text x="0.00" y="0.00" font-size="17.45" text-anchor="start" font-weight="bold" fill="#000" transform="translate(1354.67,1440.00) rotate(-90)" class="b">WCM041</text>
<text x="0.00" y="0.00" font-size="17.45" text-anchor="start" font-weight="bold" fill="#000" transform="translate(1373.35,1440.00) rotate(-90)" class="b">WCM042</text>
<text x="0.00" y="0.00" font-size="17.45" text-anchor="start" font-weight="bold" fill="#000" transform="translate(1392.03,1440.00) rotate(-90)" class="b">WCM043</text>
<text x="0.00" y="0.00" font-size="17.45" text-anchor="start" font-weight="bold" fill="#000" transform="translate(1410.71,1440.00) rotate(-90)" class="b">WCM044</text>
<text x="0.00" y="0.00" font-size="17.45" text-anchor="start" font-weight="bold" fill="#000" transform="translate(1429.39,1440.00) rotate(-90)" class="b">WCM048</text>
<text x="0.00" y="0.00" font-size="17.45" text-anchor="start" font-weight="bold" fill="#000" transform="translate(1448.07,1440.00) rotate(-90)" class="b">WCM050</text>
<text x="0.00" y="0.00" font-size="17.45" text-anchor="start" font-weight="bold" fill="#000" transform="translate(1466.75,1440.00) rotate(-90)" class="b">WCM051</text>
<text x="0.00" y="0.00" font-size="17.45" text-anchor="start" font-weight="bold" fill="#000" transform="translate(1485.43,1440.00) rotate(-90)" class="b">WCM059</text>
<text x="0.00" y="0.00" font-size="17.45" text-anchor="start" font-weight="bold" fill="#000" transform="translate(1504.11,1440.00) rotate(-90)" class="b">WCM060</text>
<text x="0.00" y="0.00" font-size="17.45" text-anchor="start" font-weight="bold" fill="#000" transform="translate(1522.79,1440.00) rotate(-90)" class="b">WCM063</text>
<text x="0.00" y="0.00" font-size="17.45" text-anchor="start" font-weight="bold" fill="#000" transform="translate(1541.47,1440.00) rotate(-90)" class="b">WCM068</text>
<text x="0.00" y="0.00" font-size="17.45" text-anchor="start" font-weight="bold" fill="#000" transform="translate(1560.15,1440.00) rotate(-90)" class="b">WCM069</text>
<text x="0.00" y="0.00" font-size="17.45" text-anchor="start" font-weight="bold" fill="#000" transform="translate(1578.83,1440.00) rotate(-90)" class="b">WCM070</text>
<text x="0.00" y="0.00" font-size="17.45" text-anchor="start" font-weight="bold" fill="#000" transform="translate(1597.51,1440.00) rotate(-90)" class="b">WCM071</text>
<text x="0.00" y="0.00" font-size="17.45" text-anchor="start" font-weight="bold" fill="#000" transform="translate(1616.19,1440.00) rotate(-90)" class="b">WCM074</text>
<text x="0.00" y="0.00" font-size="17.45" text-anchor="start" font-weight="bold" fill="#000" transform="translate(1634.87,1440.00) rotate(-90)" class="b">WCM073</text>
<text x="0.00" y="0.00" font-size="17.45" text-anchor="start" font-weight="bold" fill="#000" transform="translate(1653.55,1440.00) rotate(-90)" class="b">WCM077</text>
<text x="0.00" y="0.00" font-size="17.45" text-anchor="start" font-weight="bold" fill="#000" transform="translate(1672.23,1440.00) rotate(-90)" class="b">WCM078</text>
<text x="0.00" y="0.00" font-size="17.45" text-anchor="start" font-weight="bold" fill="#000" transform="translate(1690.91,1440.00) rotate(-90)" class="b">WCM079</text>
<line x1="1701.7" y1="426.05" x2="1701.7" y2="1359.70" stroke="#444" stroke-width="0.9" stroke-dasharray="17.989 0.7"/>
<rect x="1701.70" y="426.35" width="66.10" height="16.69" fill="#E24F55" stroke="#4a4a4a" stroke-width="1.0"/>
<rect x="1701.70" y="445.04" width="79.32" height="16.69" fill="#E24F55" stroke="#4a4a4a" stroke-width="1.0"/>
<rect x="1701.70" y="463.73" width="66.10" height="16.69" fill="#E24F55" stroke="#4a4a4a" stroke-width="1.0"/>
<rect x="1701.70" y="501.11" width="13.22" height="16.69" fill="#E24F55" stroke="#4a4a4a" stroke-width="1.0"/>
<rect x="1701.70" y="519.79" width="13.22" height="16.69" fill="#E24F55" stroke="#4a4a4a" stroke-width="1.0"/>
<rect x="1701.70" y="538.48" width="92.54" height="16.69" fill="#E24F55" stroke="#4a4a4a" stroke-width="1.0"/>
<rect x="1701.70" y="650.62" width="13.22" height="16.69" fill="#E24F55" stroke="#4a4a4a" stroke-width="1.0"/>
<rect x="1701.70" y="688.00" width="39.66" height="16.69" fill="#E24F55" stroke="#4a4a4a" stroke-width="1.0"/>
<rect x="1701.70" y="762.75" width="39.66" height="16.69" fill="#E24F55" stroke="#4a4a4a" stroke-width="1.0"/>
<rect x="1701.70" y="800.13" width="13.22" height="16.69" fill="#E24F55" stroke="#4a4a4a" stroke-width="1.0"/>
<rect x="1701.70" y="818.82" width="13.22" height="16.69" fill="#E24F55" stroke="#4a4a4a" stroke-width="1.0"/>
<rect x="1701.70" y="856.20" width="52.88" height="16.69" fill="#E24F55" stroke="#4a4a4a" stroke-width="1.0"/>
<rect x="1701.70" y="912.26" width="26.44" height="16.69" fill="#E24F55" stroke="#4a4a4a" stroke-width="1.0"/>
<rect x="1701.70" y="968.33" width="13.22" height="16.69" fill="#E24F55" stroke="#4a4a4a" stroke-width="1.0"/>
<rect x="1701.70" y="1043.09" width="52.88" height="16.69" fill="#E24F55" stroke="#4a4a4a" stroke-width="1.0"/>
<rect x="1701.70" y="1117.84" width="105.76" height="16.69" fill="#E24F55" stroke="#4a4a4a" stroke-width="1.0"/>
<rect x="1701.70" y="1173.91" width="39.66" height="16.69" fill="#E24F55" stroke="#4a4a4a" stroke-width="1.0"/>
<rect x="1701.70" y="1248.67" width="39.66" height="16.69" fill="#E24F55" stroke="#4a4a4a" stroke-width="1.0"/>
<rect x="1701.70" y="1267.36" width="105.76" height="16.69" fill="#E24F55" stroke="#4a4a4a" stroke-width="1.0"/>
<rect x="1701.70" y="1342.11" width="13.22" height="16.69" fill="#E24F55" stroke="#4a4a4a" stroke-width="1.0"/>
<path d="M1701.7 1361.6 H1807.46" stroke="#555" stroke-width="2.2" fill="none"/>
<line x1="1701.70" y1="1360.5" x2="1701.70" y2="1371.8" stroke="#555" stroke-width="2.1"/>
<text x="1702.30" y="1390.80" font-size="17.5" text-anchor="middle" font-weight="bold" fill="#000" class="b">0</text>
<line x1="1728.14" y1="1360.5" x2="1728.14" y2="1371.8" stroke="#555" stroke-width="2.1"/>
<text x="1728.74" y="1390.80" font-size="17.5" text-anchor="middle" font-weight="bold" fill="#000" class="b">2</text>
<line x1="1754.58" y1="1360.5" x2="1754.58" y2="1371.8" stroke="#555" stroke-width="2.1"/>
<text x="1755.18" y="1390.80" font-size="17.5" text-anchor="middle" font-weight="bold" fill="#000" class="b">4</text>
<line x1="1781.02" y1="1360.5" x2="1781.02" y2="1371.8" stroke="#555" stroke-width="2.1"/>
<text x="1781.62" y="1390.80" font-size="17.5" text-anchor="middle" font-weight="bold" fill="#000" class="b">6</text>
<line x1="1807.46" y1="1360.5" x2="1807.46" y2="1371.8" stroke="#555" stroke-width="2.1"/>
<text x="1808.06" y="1390.80" font-size="17.5" text-anchor="middle" font-weight="bold" fill="#000" class="b">8</text>
<text x="0.00" y="0.00" font-size="23.8" text-anchor="middle" font-weight="bold" fill="#000" transform="translate(1797.9,879) rotate(90)" class="b">Frequency in TCGA-BLCA</text>
<rect x="657.30" y="1474.50" width="27.00" height="27.00" fill="#E87A25"/>
<text x="696.00" y="1494.00" font-size="20.3" text-anchor="start" font-weight="bold" fill="#000" class="b">Missense variant</text>
<rect x="876.10" y="1474.50" width="27.00" height="27.00" fill="#2A8B5C"/>
<text x="914.80" y="1494.00" font-size="20.3" text-anchor="start" font-weight="bold" fill="#000" class="b">Stop gained</text>
<rect x="1053.40" y="1474.50" width="27.00" height="27.00" fill="#342F7C"/>
<text x="1092.10" y="1494.00" font-size="20.3" text-anchor="start" font-weight="bold" fill="#000" class="b">Frameshift variant</text>
<text x="-1.30" y="1584.40" font-size="41" text-anchor="start" font-weight="bold" fill="#000" class="b">b</text>
<text x="1090.00" y="1585.00" font-size="41" text-anchor="start" font-weight="bold" fill="#000" class="b">c</text>
<line x1="227.45" y1="2373.7" x2="227.45" y2="2378.6" stroke="#000" stroke-width="2.9"/>
<text x="227.35" y="2410.90" font-size="26.3" text-anchor="middle" font-weight="normal" fill="#000">0.0</text>
<line x1="343.02" y1="2373.7" x2="343.02" y2="2378.6" stroke="#000" stroke-width="2.9"/>
<text x="342.92" y="2410.90" font-size="26.3" text-anchor="middle" font-weight="normal" fill="#000">0.5</text>
<line x1="458.60" y1="2373.7" x2="458.60" y2="2378.6" stroke="#000" stroke-width="2.9"/>
<text x="458.50" y="2410.90" font-size="26.3" text-anchor="middle" font-weight="normal" fill="#000">1.0</text>
<line x1="574.17" y1="2373.7" x2="574.17" y2="2378.6" stroke="#000" stroke-width="2.9"/>
<text x="574.07" y="2410.90" font-size="26.3" text-anchor="middle" font-weight="normal" fill="#000">1.5</text>
<line x1="689.75" y1="2373.7" x2="689.75" y2="2378.6" stroke="#000" stroke-width="2.9"/>
<text x="689.65" y="2410.90" font-size="26.3" text-anchor="middle" font-weight="normal" fill="#000">2.0</text>
<line x1="805.33" y1="2373.7" x2="805.33" y2="2378.6" stroke="#000" stroke-width="2.9"/>
<text x="805.23" y="2410.90" font-size="26.3" text-anchor="middle" font-weight="normal" fill="#000">2.5</text>
<line x1="193.0" y1="2344.55" x2="198.5" y2="2344.55" stroke="#000" stroke-width="2.7"/>
<text x="182.60" y="2353.40" font-size="25.8" text-anchor="end" font-weight="normal" fill="#000">0</text>
<line x1="193.0" y1="2166.85" x2="198.5" y2="2166.85" stroke="#000" stroke-width="2.7"/>
<text x="182.60" y="2176.15" font-size="25.8" text-anchor="end" font-weight="normal" fill="#4d4d4d">5</text>
<line x1="193.0" y1="1989.15" x2="198.5" y2="1989.15" stroke="#000" stroke-width="2.7"/>
<text x="181.40" y="1998.45" font-size="25.8" text-anchor="end" font-weight="normal" fill="#4d4d4d">10</text>
<line x1="193.0" y1="1811.45" x2="198.5" y2="1811.45" stroke="#000" stroke-width="2.7"/>
<text x="181.20" y="1820.75" font-size="25.8" text-anchor="end" font-weight="normal" fill="#4d4d4d">15</text>
<line x1="458.50" y1="1729.3" x2="458.50" y2="2373.7" stroke="#6a6a6a" stroke-width="3.0" stroke-dasharray="4.6 12.2"/>
<line x1="197.6" y1="2298.3" x2="828" y2="2298.3" stroke="#6a6a6a" stroke-width="3.2" stroke-dasharray="4.9 12.02"/>
<path d="M198.5 1578.3 V2373.7 H833.6" stroke="#000" stroke-width="3.05" fill="none" stroke-linejoin="miter"/>
<text x="207.00" y="2289.50" font-size="17.05" text-anchor="start" font-weight="normal" fill="#000">Level of significance = 0.05</text>
<ellipse cx="699.00" cy="1771.30" rx="20.40" ry="18.60" fill="#F37D7B" fill-opacity="0.82" stroke="#F37D7B" stroke-width="1.6"/>
<text x="660.30" y="1812.30" font-size="21.8" text-anchor="middle" font-weight="normal" fill="#F37D7B">TCGA–EUR</text>
<ellipse cx="716.10" cy="2215.90" rx="13.80" ry="12.70" fill="#3BBFC6" fill-opacity="0.85" stroke="#3BBFC6" stroke-width="1.6"/>
<text x="724.10" y="2194.70" font-size="21.7" text-anchor="middle" font-weight="normal" fill="#3BBFC6">WCM–EUR</text>
<ellipse cx="600.30" cy="2283.40" rx="12.60" ry="11.40" fill="#F37D7B" fill-opacity="0.82" stroke="#F37D7B" stroke-width="1.6"/>
<text x="567.80" y="2262.20" font-size="21.7" text-anchor="middle" font-weight="normal" fill="#F37D7B">TCGA–ASH</text>
<ellipse cx="631.40" cy="2293.70" rx="8.20" ry="7.55" fill="#3BBFC6" fill-opacity="0.85" stroke="#3BBFC6" stroke-width="1.6"/>
<text x="691.30" y="2284.60" font-size="21.6" text-anchor="middle" font-weight="normal" fill="#3BBFC6">WCM–ASH</text>
<text x="469.70" y="2453.80" font-size="26.3" text-anchor="middle" font-weight="normal" fill="#000">Odds ratio</text>
<text x="0.00" y="0.00" font-size="30.3" text-anchor="middle" font-weight="normal" fill="#000" transform="translate(127.3,2031.5) rotate(-90)">–log10(<tspan font-style="italic">p</tspan> value)</text>
<text x="34.30" y="1657.50" font-size="20.2" text-anchor="start" font-weight="normal" fill="#000">Cohort size</text>
<ellipse cx="70.8" cy="1678.9" rx="11.45" ry="10.05" fill="#303030" stroke="#101010" stroke-width="1.7"/>
<text x="111.40" y="1684.00" font-size="14.0" text-anchor="middle" font-weight="normal" fill="#000">32</text>
<ellipse cx="70.8" cy="1710.4" rx="15.15" ry="13.75" fill="#303030" stroke="#101010" stroke-width="1.7"/>
<text x="111.40" y="1715.50" font-size="14.0" text-anchor="middle" font-weight="normal" fill="#000">64</text>
<ellipse cx="70.8" cy="1748.3" rx="17.4" ry="15.85" fill="#303030" stroke="#101010" stroke-width="1.7"/>
<text x="111.40" y="1753.40" font-size="14.0" text-anchor="middle" font-weight="normal" fill="#000">128</text>
<ellipse cx="70.8" cy="1791.1" rx="19.35" ry="17.65" fill="#303030" stroke="#101010" stroke-width="1.7"/>
<text x="111.40" y="1796.20" font-size="14.0" text-anchor="middle" font-weight="normal" fill="#000">256</text>
<text x="24.50" y="1841.50" font-size="17.8" text-anchor="start" font-weight="normal" fill="#000">Cohort</text>
<ellipse cx="39.60" cy="1866.50" rx="4.70" ry="4.50" fill="#F37D7B" fill-opacity="1"/>
<text x="56.90" y="1873.40" font-size="17.05" text-anchor="start" font-weight="normal" fill="#000">TCGA–BLCA</text>
<ellipse cx="39.60" cy="1894.00" rx="4.70" ry="4.50" fill="#3BBFC6" fill-opacity="1"/>
<text x="56.90" y="1901.20" font-size="17.05" text-anchor="start" font-weight="normal" fill="#000">WCM–UC</text>
<text x="277.00" y="2492.60" font-size="22.05" text-anchor="middle" font-weight="normal" fill="#000">Enriched in SPARK controls</text>
<text x="653.80" y="2492.60" font-size="21.95" text-anchor="middle" font-weight="normal" fill="#000">Enriched in cancer cases</text>
<line x1="220.6" y1="2510" x2="415.8" y2="2510" stroke="#000" stroke-width="2.2"/>
<path d="M208.6 2510 L227.6 2501.7 L223.1 2510 L227.6 2518.3 Z" fill="#000"/>
<line x1="529" y1="2510" x2="724.2" y2="2510" stroke="#000" stroke-width="2.2"/>
<path d="M736.2 2510 L717.2 2501.7 L721.7 2510 L717.2 2518.3 Z" fill="#000"/>
<path d="M1196.65 1578.8 V2373.8 H1687" stroke="#000" stroke-width="3.5" fill="none"/>
<line x1="1219.00" y1="2373.8" x2="1219.00" y2="2377.4" stroke="#000" stroke-width="3.2"/>
<text x="1219.00" y="2410.80" font-size="26.4" text-anchor="middle" font-weight="normal" fill="#000">0.0</text>
<line x1="1367.50" y1="2373.8" x2="1367.50" y2="2377.4" stroke="#000" stroke-width="3.2"/>
<text x="1367.50" y="2407.90" font-size="26.4" text-anchor="middle" font-weight="normal" fill="#000">1.0</text>
<line x1="1516.00" y1="2373.8" x2="1516.00" y2="2377.4" stroke="#000" stroke-width="3.2"/>
<text x="1516.00" y="2407.90" font-size="26.4" text-anchor="middle" font-weight="normal" fill="#000">2.0</text>
<line x1="1664.50" y1="2373.8" x2="1664.50" y2="2377.4" stroke="#000" stroke-width="3.2"/>
<text x="1664.50" y="2407.90" font-size="26.4" text-anchor="middle" font-weight="normal" fill="#000">3.0</text>
<line x1="1367.40" y1="1578.7" x2="1367.40" y2="2373.8" stroke="#000" stroke-width="3.9" stroke-dasharray="4.8 13.587"/>
<line x1="1193.0500000000002" y1="1593.60" x2="1196.65" y2="1593.60" stroke="#000" stroke-width="3.4"/>
<text x="1187.70" y="1600.00" font-size="19.0" text-anchor="end" font-weight="normal" fill="#000">OV</text>
<line x1="1513.14" y1="1593.60" x2="1610.57" y2="1593.60" stroke="#000" stroke-width="3.45"/>
<rect x="1511.24" y="1591.00" width="3.9" height="5.2" rx="0.6" fill="#000"/>
<rect x="1608.57" y="1591.00" width="3.9" height="5.2" rx="0.6" fill="#000"/>
<ellipse cx="1558.86" cy="1593.60" rx="10.0" ry="9.5" fill="#F28055"/>
<line x1="1193.0500000000002" y1="1617.53" x2="1196.65" y2="1617.53" stroke="#000" stroke-width="3.4"/>
<text x="1186.50" y="1623.93" font-size="19.0" text-anchor="end" font-weight="normal" fill="#000">LAML</text>
<line x1="1408.78" y1="1617.53" x2="1541.31" y2="1617.53" stroke="#000" stroke-width="3.45"/>
<rect x="1406.88" y="1614.93" width="3.9" height="5.2" rx="0.6" fill="#000"/>
<rect x="1539.31" y="1614.93" width="3.9" height="5.2" rx="0.6" fill="#000"/>
<ellipse cx="1467.43" cy="1617.53" rx="10.0" ry="9.5" fill="#F28055"/>
<line x1="1193.0500000000002" y1="1641.46" x2="1196.65" y2="1641.46" stroke="#000" stroke-width="3.4"/>
<text x="1186.50" y="1647.86" font-size="19.0" text-anchor="end" font-weight="normal" fill="#000">BRCA</text>
<line x1="1425.87" y1="1641.46" x2="1478.97" y2="1641.46" stroke="#000" stroke-width="3.45"/>
<rect x="1423.97" y="1638.86" width="3.9" height="5.2" rx="0.6" fill="#000"/>
<rect x="1476.97" y="1638.86" width="3.9" height="5.2" rx="0.6" fill="#000"/>
<ellipse cx="1450.80" cy="1641.46" rx="10.0" ry="9.5" fill="#F28055"/>
<line x1="1193.0500000000002" y1="1665.39" x2="1196.65" y2="1665.39" stroke="#000" stroke-width="3.4"/>
<text x="1186.50" y="1671.79" font-size="19.0" text-anchor="end" font-weight="normal" fill="#000">READ</text>
<line x1="1376.92" y1="1665.39" x2="1542.23" y2="1665.39" stroke="#000" stroke-width="3.45"/>
<rect x="1375.02" y="1662.79" width="3.9" height="5.2" rx="0.6" fill="#000"/>
<rect x="1540.23" y="1662.79" width="3.9" height="5.2" rx="0.6" fill="#000"/>
<ellipse cx="1447.57" cy="1665.39" rx="10.0" ry="9.5" fill="#F28055"/>
<line x1="1193.0500000000002" y1="1689.32" x2="1196.65" y2="1689.32" stroke="#000" stroke-width="3.4"/>
<text x="1186.50" y="1695.72" font-size="19.0" text-anchor="end" font-weight="normal" fill="#000">BLCA</text>
<line x1="1404.63" y1="1689.32" x2="1475.28" y2="1689.32" stroke="#000" stroke-width="3.45"/>
<rect x="1402.73" y="1686.72" width="3.9" height="5.2" rx="0.6" fill="#000"/>
<rect x="1473.28" y="1686.72" width="3.9" height="5.2" rx="0.6" fill="#000"/>
<ellipse cx="1437.41" cy="1689.32" rx="10.0" ry="9.5" fill="#CF2028"/>
<line x1="1193.0500000000002" y1="1713.25" x2="1196.65" y2="1713.25" stroke="#000" stroke-width="3.4"/>
<text x="1186.50" y="1719.65" font-size="19.0" text-anchor="end" font-weight="normal" fill="#000">SKCM</text>
<line x1="1400.47" y1="1713.25" x2="1460.96" y2="1713.25" stroke="#000" stroke-width="3.45"/>
<rect x="1398.57" y="1710.65" width="3.9" height="5.2" rx="0.6" fill="#000"/>
<rect x="1458.96" y="1710.65" width="3.9" height="5.2" rx="0.6" fill="#000"/>
<ellipse cx="1428.64" cy="1713.25" rx="10.0" ry="9.5" fill="#F28055"/>
<line x1="1193.0500000000002" y1="1737.18" x2="1196.65" y2="1737.18" stroke="#000" stroke-width="3.4"/>
<text x="1186.50" y="1743.58" font-size="19.0" text-anchor="end" font-weight="normal" fill="#000">UCS</text>
<line x1="1340.44" y1="1737.18" x2="1520.99" y2="1737.18" stroke="#000" stroke-width="3.45"/>
<rect x="1338.54" y="1734.58" width="3.9" height="5.2" rx="0.6" fill="#000"/>
<rect x="1518.99" y="1734.58" width="3.9" height="5.2" rx="0.6" fill="#000"/>
<ellipse cx="1414.79" cy="1737.18" rx="10.0" ry="9.5" fill="#B2B2B2"/>
<line x1="1193.0500000000002" y1="1761.11" x2="1196.65" y2="1761.11" stroke="#000" stroke-width="3.4"/>
<text x="1186.50" y="1767.51" font-size="19.0" text-anchor="end" font-weight="normal" fill="#000">PAAD</text>
<line x1="1367.69" y1="1761.11" x2="1457.73" y2="1761.11" stroke="#000" stroke-width="3.45"/>
<rect x="1365.79" y="1758.51" width="3.9" height="5.2" rx="0.6" fill="#000"/>
<rect x="1455.73" y="1758.51" width="3.9" height="5.2" rx="0.6" fill="#000"/>
<ellipse cx="1408.32" cy="1761.11" rx="10.0" ry="9.5" fill="#F28055"/>
<line x1="1193.0500000000002" y1="1785.04" x2="1196.65" y2="1785.04" stroke="#000" stroke-width="3.4"/>
<text x="1186.50" y="1791.44" font-size="19.0" text-anchor="end" font-weight="normal" fill="#000">ACC</text>
<line x1="1344.60" y1="1785.04" x2="1470.66" y2="1785.04" stroke="#000" stroke-width="3.45"/>
<rect x="1342.70" y="1782.44" width="3.9" height="5.2" rx="0.6" fill="#000"/>
<rect x="1468.66" y="1782.44" width="3.9" height="5.2" rx="0.6" fill="#000"/>
<ellipse cx="1398.62" cy="1785.04" rx="10.0" ry="9.5" fill="#B2B2B2"/>
<line x1="1193.0500000000002" y1="1808.97" x2="1196.65" y2="1808.97" stroke="#000" stroke-width="3.4"/>
<text x="1186.50" y="1815.37" font-size="19.0" text-anchor="end" font-weight="normal" fill="#000">GBM</text>
<line x1="1367.69" y1="1808.97" x2="1432.33" y2="1808.97" stroke="#000" stroke-width="3.45"/>
<rect x="1365.79" y="1806.37" width="3.9" height="5.2" rx="0.6" fill="#000"/>
<rect x="1430.33" y="1806.37" width="3.9" height="5.2" rx="0.6" fill="#000"/>
<ellipse cx="1397.24" cy="1808.97" rx="10.0" ry="9.5" fill="#F28055"/>
<line x1="1193.0500000000002" y1="1832.90" x2="1196.65" y2="1832.90" stroke="#000" stroke-width="3.4"/>
<text x="1186.50" y="1839.30" font-size="19.0" text-anchor="end" font-weight="normal" fill="#000">LIHC</text>
<line x1="1359.37" y1="1832.90" x2="1439.26" y2="1832.90" stroke="#000" stroke-width="3.45"/>
<rect x="1357.47" y="1830.30" width="3.9" height="5.2" rx="0.6" fill="#000"/>
<rect x="1437.26" y="1830.30" width="3.9" height="5.2" rx="0.6" fill="#000"/>
<ellipse cx="1395.39" cy="1832.90" rx="10.0" ry="9.5" fill="#B2B2B2"/>
<line x1="1193.0500000000002" y1="1856.83" x2="1196.65" y2="1856.83" stroke="#000" stroke-width="3.4"/>
<text x="1186.50" y="1863.23" font-size="19.0" text-anchor="end" font-weight="normal" fill="#000">PCPG</text>
<line x1="1351.06" y1="1856.83" x2="1446.19" y2="1856.83" stroke="#000" stroke-width="3.45"/>
<rect x="1349.16" y="1854.23" width="3.9" height="5.2" rx="0.6" fill="#000"/>
<rect x="1444.19" y="1854.23" width="3.9" height="5.2" rx="0.6" fill="#000"/>
<ellipse cx="1393.08" cy="1856.83" rx="10.0" ry="9.5" fill="#B2B2B2"/>
<line x1="1193.0500000000002" y1="1880.76" x2="1196.65" y2="1880.76" stroke="#000" stroke-width="3.4"/>
<text x="1186.50" y="1887.16" font-size="19.0" text-anchor="end" font-weight="normal" fill="#000">UVM</text>
<line x1="1323.82" y1="1880.76" x2="1482.20" y2="1880.76" stroke="#000" stroke-width="3.45"/>
<rect x="1321.92" y="1878.16" width="3.9" height="5.2" rx="0.6" fill="#000"/>
<rect x="1480.20" y="1878.16" width="3.9" height="5.2" rx="0.6" fill="#000"/>
<ellipse cx="1388.47" cy="1880.76" rx="10.0" ry="9.5" fill="#B2B2B2"/>
<line x1="1193.0500000000002" y1="1904.69" x2="1196.65" y2="1904.69" stroke="#000" stroke-width="3.4"/>
<text x="1186.50" y="1911.09" font-size="19.0" text-anchor="end" font-weight="normal" fill="#000">LUAD</text>
<line x1="1359.37" y1="1904.69" x2="1416.17" y2="1904.69" stroke="#000" stroke-width="3.45"/>
<rect x="1357.47" y="1902.09" width="3.9" height="5.2" rx="0.6" fill="#000"/>
<rect x="1414.17" y="1902.09" width="3.9" height="5.2" rx="0.6" fill="#000"/>
<ellipse cx="1385.69" cy="1904.69" rx="10.0" ry="9.5" fill="#B2B2B2"/>
<line x1="1193.0500000000002" y1="1928.62" x2="1196.65" y2="1928.62" stroke="#000" stroke-width="3.4"/>
<text x="1186.50" y="1935.02" font-size="19.0" text-anchor="end" font-weight="normal" fill="#000">LUSC</text>
<line x1="1357.99" y1="1928.62" x2="1418.48" y2="1928.62" stroke="#000" stroke-width="3.45"/>
<rect x="1356.09" y="1926.02" width="3.9" height="5.2" rx="0.6" fill="#000"/>
<rect x="1416.48" y="1926.02" width="3.9" height="5.2" rx="0.6" fill="#000"/>
<ellipse cx="1385.23" cy="1928.62" rx="10.0" ry="9.5" fill="#B2B2B2"/>
<line x1="1193.0500000000002" y1="1952.55" x2="1196.65" y2="1952.55" stroke="#000" stroke-width="3.4"/>
<text x="1186.50" y="1958.95" font-size="19.0" text-anchor="end" font-weight="normal" fill="#000">ESCA</text>
<line x1="1340.90" y1="1952.55" x2="1442.03" y2="1952.55" stroke="#000" stroke-width="3.45"/>
<rect x="1339.00" y="1949.95" width="3.9" height="5.2" rx="0.6" fill="#000"/>
<rect x="1440.03" y="1949.95" width="3.9" height="5.2" rx="0.6" fill="#000"/>
<ellipse cx="1385.23" cy="1952.55" rx="10.0" ry="9.5" fill="#B2B2B2"/>
<line x1="1193.0500000000002" y1="1976.48" x2="1196.65" y2="1976.48" stroke="#000" stroke-width="3.4"/>
<text x="1186.50" y="1982.88" font-size="19.0" text-anchor="end" font-weight="normal" fill="#000">SARC</text>
<line x1="1352.91" y1="1976.48" x2="1421.71" y2="1976.48" stroke="#000" stroke-width="3.45"/>
<rect x="1351.01" y="1973.88" width="3.9" height="5.2" rx="0.6" fill="#000"/>
<rect x="1419.71" y="1973.88" width="3.9" height="5.2" rx="0.6" fill="#000"/>
<ellipse cx="1384.31" cy="1976.48" rx="10.0" ry="9.5" fill="#B2B2B2"/>
<line x1="1193.0500000000002" y1="2000.41" x2="1196.65" y2="2000.41" stroke="#000" stroke-width="3.4"/>
<text x="1186.50" y="2006.81" font-size="19.0" text-anchor="end" font-weight="normal" fill="#000">THCA</text>
<line x1="1356.60" y1="2000.41" x2="1415.25" y2="2000.41" stroke="#000" stroke-width="3.45"/>
<rect x="1354.70" y="1997.81" width="3.9" height="5.2" rx="0.6" fill="#000"/>
<rect x="1413.25" y="1997.81" width="3.9" height="5.2" rx="0.6" fill="#000"/>
<ellipse cx="1383.85" cy="2000.41" rx="10.0" ry="9.5" fill="#B2B2B2"/>
<line x1="1193.0500000000002" y1="2024.34" x2="1196.65" y2="2024.34" stroke="#000" stroke-width="3.4"/>
<text x="1186.50" y="2030.74" font-size="19.0" text-anchor="end" font-weight="normal" fill="#000">KIRP</text>
<line x1="1349.68" y1="2024.34" x2="1424.94" y2="2024.34" stroke="#000" stroke-width="3.45"/>
<rect x="1347.78" y="2021.74" width="3.9" height="5.2" rx="0.6" fill="#000"/>
<rect x="1422.94" y="2021.74" width="3.9" height="5.2" rx="0.6" fill="#000"/>
<ellipse cx="1383.85" cy="2024.34" rx="10.0" ry="9.5" fill="#B2B2B2"/>
<line x1="1193.0500000000002" y1="2048.27" x2="1196.65" y2="2048.27" stroke="#000" stroke-width="3.4"/>
<text x="1186.50" y="2054.67" font-size="19.0" text-anchor="end" font-weight="normal" fill="#000">STAD</text>
<line x1="1352.91" y1="2048.27" x2="1416.63" y2="2048.27" stroke="#000" stroke-width="3.45"/>
<rect x="1351.01" y="2045.67" width="3.9" height="5.2" rx="0.6" fill="#000"/>
<rect x="1414.63" y="2045.67" width="3.9" height="5.2" rx="0.6" fill="#000"/>
<ellipse cx="1382.00" cy="2048.27" rx="10.0" ry="9.5" fill="#B2B2B2"/>
<line x1="1193.0500000000002" y1="2072.20" x2="1196.65" y2="2072.20" stroke="#000" stroke-width="3.4"/>
<text x="1186.50" y="2078.60" font-size="19.0" text-anchor="end" font-weight="normal" fill="#000">KIRC</text>
<line x1="1351.99" y1="2072.20" x2="1413.40" y2="2072.20" stroke="#000" stroke-width="3.45"/>
<rect x="1350.09" y="2069.60" width="3.9" height="5.2" rx="0.6" fill="#000"/>
<rect x="1411.40" y="2069.60" width="3.9" height="5.2" rx="0.6" fill="#000"/>
<ellipse cx="1380.62" cy="2072.20" rx="10.0" ry="9.5" fill="#B2B2B2"/>
<line x1="1193.0500000000002" y1="2096.13" x2="1196.65" y2="2096.13" stroke="#000" stroke-width="3.4"/>
<text x="1186.50" y="2102.53" font-size="19.0" text-anchor="end" font-weight="normal" fill="#000">TGCT</text>
<line x1="1338.13" y1="2096.13" x2="1432.33" y2="2096.13" stroke="#000" stroke-width="3.45"/>
<rect x="1336.23" y="2093.53" width="3.9" height="5.2" rx="0.6" fill="#000"/>
<rect x="1430.33" y="2093.53" width="3.9" height="5.2" rx="0.6" fill="#000"/>
<ellipse cx="1379.69" cy="2096.13" rx="10.0" ry="9.5" fill="#B2B2B2"/>
<line x1="1193.0500000000002" y1="2120.06" x2="1196.65" y2="2120.06" stroke="#000" stroke-width="3.4"/>
<text x="1186.50" y="2126.46" font-size="19.0" text-anchor="end" font-weight="normal" fill="#000">PRAD</text>
<line x1="1352.91" y1="2120.06" x2="1406.47" y2="2120.06" stroke="#000" stroke-width="3.45"/>
<rect x="1351.01" y="2117.46" width="3.9" height="5.2" rx="0.6" fill="#000"/>
<rect x="1404.47" y="2117.46" width="3.9" height="5.2" rx="0.6" fill="#000"/>
<ellipse cx="1377.84" cy="2120.06" rx="10.0" ry="9.5" fill="#B2B2B2"/>
<line x1="1193.0500000000002" y1="2143.99" x2="1196.65" y2="2143.99" stroke="#000" stroke-width="3.4"/>
<text x="1186.50" y="2150.39" font-size="19.0" text-anchor="end" font-weight="normal" fill="#000">UCEC</text>
<line x1="1351.52" y1="2143.99" x2="1407.40" y2="2143.99" stroke="#000" stroke-width="3.45"/>
<rect x="1349.62" y="2141.39" width="3.9" height="5.2" rx="0.6" fill="#000"/>
<rect x="1405.40" y="2141.39" width="3.9" height="5.2" rx="0.6" fill="#000"/>
<ellipse cx="1377.38" cy="2143.99" rx="10.0" ry="9.5" fill="#B2B2B2"/>
<line x1="1193.0500000000002" y1="2167.92" x2="1196.65" y2="2167.92" stroke="#000" stroke-width="3.4"/>
<text x="1186.50" y="2174.32" font-size="19.0" text-anchor="end" font-weight="normal" fill="#000">HNSC</text>
<line x1="1350.14" y1="2167.92" x2="1400.47" y2="2167.92" stroke="#000" stroke-width="3.45"/>
<rect x="1348.24" y="2165.32" width="3.9" height="5.2" rx="0.6" fill="#000"/>
<rect x="1398.47" y="2165.32" width="3.9" height="5.2" rx="0.6" fill="#000"/>
<ellipse cx="1373.23" cy="2167.92" rx="10.0" ry="9.5" fill="#B2B2B2"/>
<line x1="1193.0500000000002" y1="2191.85" x2="1196.65" y2="2191.85" stroke="#000" stroke-width="3.4"/>
<text x="1186.50" y="2198.25" font-size="19.0" text-anchor="end" font-weight="normal" fill="#000">CESC</text>
<line x1="1339.98" y1="2191.85" x2="1408.32" y2="2191.85" stroke="#000" stroke-width="3.45"/>
<rect x="1338.08" y="2189.25" width="3.9" height="5.2" rx="0.6" fill="#000"/>
<rect x="1406.32" y="2189.25" width="3.9" height="5.2" rx="0.6" fill="#000"/>
<ellipse cx="1371.38" cy="2191.85" rx="10.0" ry="9.5" fill="#B2B2B2"/>
<line x1="1193.0500000000002" y1="2215.78" x2="1196.65" y2="2215.78" stroke="#000" stroke-width="3.4"/>
<text x="1186.50" y="2222.18" font-size="19.0" text-anchor="end" font-weight="normal" fill="#000">KICH</text>
<line x1="1314.58" y1="2215.78" x2="1442.49" y2="2215.78" stroke="#000" stroke-width="3.45"/>
<rect x="1312.68" y="2213.18" width="3.9" height="5.2" rx="0.6" fill="#000"/>
<rect x="1440.49" y="2213.18" width="3.9" height="5.2" rx="0.6" fill="#000"/>
<ellipse cx="1368.15" cy="2215.78" rx="10.0" ry="9.5" fill="#B2B2B2"/>
<line x1="1193.0500000000002" y1="2239.71" x2="1196.65" y2="2239.71" stroke="#000" stroke-width="3.4"/>
<text x="1186.50" y="2246.11" font-size="19.0" text-anchor="end" font-weight="normal" fill="#000">COAD</text>
<line x1="1335.82" y1="2239.71" x2="1404.63" y2="2239.71" stroke="#000" stroke-width="3.45"/>
<rect x="1333.92" y="2237.11" width="3.9" height="5.2" rx="0.6" fill="#000"/>
<rect x="1402.63" y="2237.11" width="3.9" height="5.2" rx="0.6" fill="#000"/>
<ellipse cx="1367.22" cy="2239.71" rx="10.0" ry="9.5" fill="#B2B2B2"/>
<line x1="1193.0500000000002" y1="2263.64" x2="1196.65" y2="2263.64" stroke="#000" stroke-width="3.4"/>
<text x="1186.50" y="2270.04" font-size="19.0" text-anchor="end" font-weight="normal" fill="#000">DLBC</text>
<line x1="1288.26" y1="2263.64" x2="1488.67" y2="2263.64" stroke="#000" stroke-width="3.45"/>
<rect x="1286.36" y="2261.04" width="3.9" height="5.2" rx="0.6" fill="#000"/>
<rect x="1486.67" y="2261.04" width="3.9" height="5.2" rx="0.6" fill="#000"/>
<ellipse cx="1363.07" cy="2263.64" rx="10.0" ry="9.5" fill="#B2B2B2"/>
<line x1="1193.0500000000002" y1="2287.57" x2="1196.65" y2="2287.57" stroke="#000" stroke-width="3.4"/>
<text x="1186.50" y="2293.97" font-size="19.0" text-anchor="end" font-weight="normal" fill="#000">LGG</text>
<line x1="1338.13" y1="2287.57" x2="1384.77" y2="2287.57" stroke="#000" stroke-width="3.45"/>
<rect x="1336.23" y="2284.97" width="3.9" height="5.2" rx="0.6" fill="#000"/>
<rect x="1382.77" y="2284.97" width="3.9" height="5.2" rx="0.6" fill="#000"/>
<ellipse cx="1360.30" cy="2287.57" rx="10.0" ry="9.5" fill="#B2B2B2"/>
<line x1="1193.0500000000002" y1="2311.50" x2="1196.65" y2="2311.50" stroke="#000" stroke-width="3.4"/>
<text x="1186.50" y="2317.90" font-size="19.0" text-anchor="end" font-weight="normal" fill="#000">THYM</text>
<line x1="1308.12" y1="2311.50" x2="1394.47" y2="2311.50" stroke="#000" stroke-width="3.45"/>
<rect x="1306.22" y="2308.90" width="3.9" height="5.2" rx="0.6" fill="#000"/>
<rect x="1392.47" y="2308.90" width="3.9" height="5.2" rx="0.6" fill="#000"/>
<ellipse cx="1345.06" cy="2311.50" rx="10.0" ry="9.5" fill="#B2B2B2"/>
<line x1="1193.0500000000002" y1="2335.43" x2="1196.65" y2="2335.43" stroke="#000" stroke-width="3.4"/>
<text x="1186.50" y="2341.83" font-size="19.0" text-anchor="end" font-weight="normal" fill="#000">MESO</text>
<line x1="1297.96" y1="2335.43" x2="1403.70" y2="2335.43" stroke="#000" stroke-width="3.45"/>
<rect x="1296.06" y="2332.83" width="3.9" height="5.2" rx="0.6" fill="#000"/>
<rect x="1401.70" y="2332.83" width="3.9" height="5.2" rx="0.6" fill="#000"/>
<ellipse cx="1342.29" cy="2335.43" rx="10.0" ry="9.5" fill="#B2B2B2"/>
<line x1="1193.0500000000002" y1="2359.36" x2="1196.65" y2="2359.36" stroke="#000" stroke-width="3.4"/>
<text x="1186.50" y="2365.76" font-size="19.0" text-anchor="end" font-weight="normal" fill="#000">CHOL</text>
<line x1="1279.03" y1="2359.36" x2="1423.10" y2="2359.36" stroke="#000" stroke-width="3.45"/>
<rect x="1277.13" y="2356.76" width="3.9" height="5.2" rx="0.6" fill="#000"/>
<rect x="1421.10" y="2356.76" width="3.9" height="5.2" rx="0.6" fill="#000"/>
<ellipse cx="1334.44" cy="2359.36" rx="10.0" ry="9.5" fill="#B2B2B2"/>
<ellipse cx="1525.6" cy="2007.3999999999999" rx="10.6" ry="9.9" fill="#CF2028"/>
<text x="1547.60" y="2012.20" font-size="15.5" text-anchor="start" font-weight="normal" fill="#000">Significant <tspan font-style="italic">p</tspan> value in BLCA</text>
<ellipse cx="1525.6" cy="2039.0" rx="10.6" ry="9.9" fill="#F28055"/>
<text x="1547.60" y="2043.80" font-size="15.5" text-anchor="start" font-weight="normal" fill="#000">Significant <tspan font-style="italic">p</tspan> value in other cancers</text>
<ellipse cx="1525.6" cy="2070.0" rx="10.6" ry="9.9" fill="#B2B2B2"/>
<text x="1547.60" y="2074.80" font-size="15.5" text-anchor="start" font-weight="normal" fill="#000">Non-significant <tspan font-style="italic">p</tspan> value</text>
<text x="1442.10" y="2444.80" font-size="26.3" text-anchor="middle" font-weight="normal" fill="#000">Odds ratio</text>
<text x="1226.80" y="2480.00" font-size="22.05" text-anchor="middle" font-weight="normal" fill="#000">Enriched in SPARK controls</text>
<text x="1586.30" y="2480.00" font-size="21.95" text-anchor="middle" font-weight="normal" fill="#000">Enriched in cancer cases</text>
<line x1="1169.6" y1="2499.8" x2="1364.1" y2="2499.8" stroke="#000" stroke-width="2.2"/>
<path d="M1157.6 2499.8 L1176.6 2491.5 L1172.1 2499.8 L1176.6 2508.1000000000004 Z" fill="#000"/>
<line x1="1464" y1="2499.8" x2="1659.3" y2="2499.8" stroke="#000" stroke-width="2.2"/>
<path d="M1671.3 2499.8 L1652.3 2491.5 L1656.8 2499.8 L1652.3 2508.1000000000004 Z" fill="#000"/>
</svg>
</body></html>
